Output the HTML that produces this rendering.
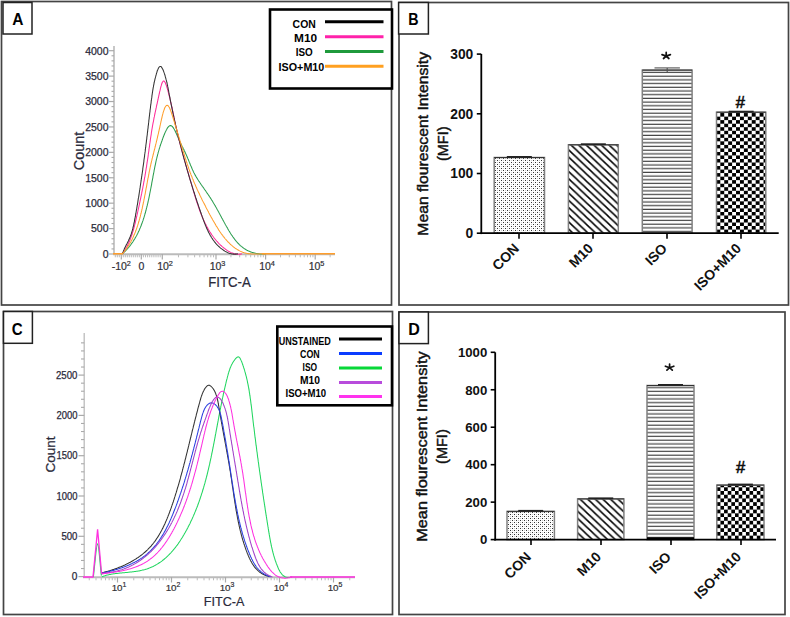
<!DOCTYPE html><html><head><meta charset="utf-8"><style>html,body{margin:0;padding:0;background:#fff;}svg{display:block;}text{font-family:"Liberation Sans",sans-serif;}</style></head><body>
<svg width="790" height="617" viewBox="0 0 790 617">
<defs>
<pattern id="dotsB" patternUnits="userSpaceOnUse" x="494" y="157" width="4" height="4"><rect x="1" y="1" width="1" height="1" fill="#333"/><rect x="3" y="3" width="1" height="1" fill="#333"/><rect x="1" y="3" width="1" height="1" fill="#ccc"/><rect x="3" y="1" width="1" height="1" fill="#ccc"/></pattern>
<pattern id="dotsD" patternUnits="userSpaceOnUse" x="507" y="511" width="4" height="4"><rect x="1" y="1" width="1" height="1" fill="#333"/><rect x="3" y="3" width="1" height="1" fill="#333"/><rect x="1" y="3" width="1" height="1" fill="#ccc"/><rect x="3" y="1" width="1" height="1" fill="#ccc"/></pattern>
<pattern id="diag" patternUnits="userSpaceOnUse" x="0" y="0" width="7.6" height="7.2"><path d="M-1.07,-1 L8.67,8.2 M-1.07,6.2 L1.07,8.2 M6.53,-1 L8.67,1" stroke="#000" stroke-width="1.5"/></pattern>
<pattern id="hstripB" patternUnits="userSpaceOnUse" x="0" y="70.3" width="10" height="3.7"><rect x="0" y="1.6" width="10" height="1.1" fill="#333"/></pattern>
<pattern id="hstripD" patternUnits="userSpaceOnUse" x="0" y="385.5" width="10" height="3.75"><rect x="0" y="1.6" width="10" height="1.1" fill="#333"/></pattern>
<pattern id="checkB" patternUnits="userSpaceOnUse" x="720.3" y="113.1" width="7.86" height="7.06"><rect x="0" y="0" width="3.93" height="3.53" fill="#000"/><rect x="3.93" y="3.53" width="3.93" height="3.53" fill="#000"/></pattern>
<pattern id="checkD" patternUnits="userSpaceOnUse" x="716.8" y="487.3" width="7.27" height="7.44"><rect x="0" y="0" width="3.63" height="3.72" fill="#000"/><rect x="3.63" y="3.72" width="3.64" height="3.72" fill="#000"/></pattern>
</defs>
<rect x="1.50" y="1.50" width="390.00" height="303.50" fill="none" stroke="#444" stroke-width="1.7"/>
<rect x="399.00" y="2.50" width="389.50" height="302.50" fill="none" stroke="#444" stroke-width="1.7"/>
<rect x="3.50" y="311.50" width="389.00" height="303.00" fill="none" stroke="#444" stroke-width="1.7"/>
<rect x="399.00" y="312.00" width="386.00" height="302.50" fill="none" stroke="#444" stroke-width="1.7"/>
<rect x="3.00" y="2.50" width="29.00" height="31.50" fill="#fff" stroke="#222" stroke-width="1.5"/>
<text x="17.80" y="25.20" font-size="17" font-weight="bold" text-anchor="middle" fill="#000" textLength="11.2" lengthAdjust="spacingAndGlyphs">A</text>
<rect x="398.60" y="2.50" width="29.80" height="31.50" fill="#fff" stroke="#222" stroke-width="1.5"/>
<text x="413.50" y="25.20" font-size="17" font-weight="bold" text-anchor="middle" fill="#000" textLength="10.3" lengthAdjust="spacingAndGlyphs">B</text>
<rect x="3.50" y="311.50" width="28.90" height="31.80" fill="#fff" stroke="#222" stroke-width="1.5"/>
<text x="17.30" y="334.80" font-size="17" font-weight="bold" text-anchor="middle" fill="#000" textLength="10.9" lengthAdjust="spacingAndGlyphs">C</text>
<rect x="399.00" y="312.00" width="29.40" height="31.60" fill="#fff" stroke="#222" stroke-width="1.5"/>
<text x="414.10" y="334.60" font-size="17" font-weight="bold" text-anchor="middle" fill="#000" textLength="11.6" lengthAdjust="spacingAndGlyphs">D</text>
<line x1="114.0" y1="46" x2="114.0" y2="254.0" stroke="#aaa" stroke-width="1.3"/>
<line x1="109" y1="254.00" x2="114.0" y2="254.00" stroke="#aaa" stroke-width="1.2"/>
<text x="108.5" y="257.80" font-size="10.5" text-anchor="end" fill="#2a2a3a" stroke="#2a2a3a" stroke-width="0.25">0</text>
<line x1="111.5" y1="248.92" x2="114.0" y2="248.92" stroke="#aaa" stroke-width="1.1"/>
<line x1="111.5" y1="243.84" x2="114.0" y2="243.84" stroke="#aaa" stroke-width="1.1"/>
<line x1="111.5" y1="238.75" x2="114.0" y2="238.75" stroke="#aaa" stroke-width="1.1"/>
<line x1="111.5" y1="233.67" x2="114.0" y2="233.67" stroke="#aaa" stroke-width="1.1"/>
<line x1="109" y1="228.59" x2="114.0" y2="228.59" stroke="#aaa" stroke-width="1.2"/>
<text x="108.5" y="232.39" font-size="10.5" text-anchor="end" fill="#2a2a3a" stroke="#2a2a3a" stroke-width="0.25">500</text>
<line x1="111.5" y1="223.50" x2="114.0" y2="223.50" stroke="#aaa" stroke-width="1.1"/>
<line x1="111.5" y1="218.42" x2="114.0" y2="218.42" stroke="#aaa" stroke-width="1.1"/>
<line x1="111.5" y1="213.34" x2="114.0" y2="213.34" stroke="#aaa" stroke-width="1.1"/>
<line x1="111.5" y1="208.26" x2="114.0" y2="208.26" stroke="#aaa" stroke-width="1.1"/>
<line x1="109" y1="203.18" x2="114.0" y2="203.18" stroke="#aaa" stroke-width="1.2"/>
<text x="108.5" y="206.98" font-size="10.5" text-anchor="end" fill="#2a2a3a" stroke="#2a2a3a" stroke-width="0.25">1000</text>
<line x1="111.5" y1="198.09" x2="114.0" y2="198.09" stroke="#aaa" stroke-width="1.1"/>
<line x1="111.5" y1="193.01" x2="114.0" y2="193.01" stroke="#aaa" stroke-width="1.1"/>
<line x1="111.5" y1="187.93" x2="114.0" y2="187.93" stroke="#aaa" stroke-width="1.1"/>
<line x1="111.5" y1="182.84" x2="114.0" y2="182.84" stroke="#aaa" stroke-width="1.1"/>
<line x1="109" y1="177.76" x2="114.0" y2="177.76" stroke="#aaa" stroke-width="1.2"/>
<text x="108.5" y="181.56" font-size="10.5" text-anchor="end" fill="#2a2a3a" stroke="#2a2a3a" stroke-width="0.25">1500</text>
<line x1="111.5" y1="172.68" x2="114.0" y2="172.68" stroke="#aaa" stroke-width="1.1"/>
<line x1="111.5" y1="167.60" x2="114.0" y2="167.60" stroke="#aaa" stroke-width="1.1"/>
<line x1="111.5" y1="162.51" x2="114.0" y2="162.51" stroke="#aaa" stroke-width="1.1"/>
<line x1="111.5" y1="157.43" x2="114.0" y2="157.43" stroke="#aaa" stroke-width="1.1"/>
<line x1="109" y1="152.35" x2="114.0" y2="152.35" stroke="#aaa" stroke-width="1.2"/>
<text x="108.5" y="156.15" font-size="10.5" text-anchor="end" fill="#2a2a3a" stroke="#2a2a3a" stroke-width="0.25">2000</text>
<line x1="111.5" y1="147.27" x2="114.0" y2="147.27" stroke="#aaa" stroke-width="1.1"/>
<line x1="111.5" y1="142.19" x2="114.0" y2="142.19" stroke="#aaa" stroke-width="1.1"/>
<line x1="111.5" y1="137.10" x2="114.0" y2="137.10" stroke="#aaa" stroke-width="1.1"/>
<line x1="111.5" y1="132.02" x2="114.0" y2="132.02" stroke="#aaa" stroke-width="1.1"/>
<line x1="109" y1="126.94" x2="114.0" y2="126.94" stroke="#aaa" stroke-width="1.2"/>
<text x="108.5" y="130.74" font-size="10.5" text-anchor="end" fill="#2a2a3a" stroke="#2a2a3a" stroke-width="0.25">2500</text>
<line x1="111.5" y1="121.85" x2="114.0" y2="121.85" stroke="#aaa" stroke-width="1.1"/>
<line x1="111.5" y1="116.77" x2="114.0" y2="116.77" stroke="#aaa" stroke-width="1.1"/>
<line x1="111.5" y1="111.69" x2="114.0" y2="111.69" stroke="#aaa" stroke-width="1.1"/>
<line x1="111.5" y1="106.61" x2="114.0" y2="106.61" stroke="#aaa" stroke-width="1.1"/>
<line x1="109" y1="101.53" x2="114.0" y2="101.53" stroke="#aaa" stroke-width="1.2"/>
<text x="108.5" y="105.33" font-size="10.5" text-anchor="end" fill="#2a2a3a" stroke="#2a2a3a" stroke-width="0.25">3000</text>
<line x1="111.5" y1="96.44" x2="114.0" y2="96.44" stroke="#aaa" stroke-width="1.1"/>
<line x1="111.5" y1="91.36" x2="114.0" y2="91.36" stroke="#aaa" stroke-width="1.1"/>
<line x1="111.5" y1="86.28" x2="114.0" y2="86.28" stroke="#aaa" stroke-width="1.1"/>
<line x1="111.5" y1="81.19" x2="114.0" y2="81.19" stroke="#aaa" stroke-width="1.1"/>
<line x1="109" y1="76.11" x2="114.0" y2="76.11" stroke="#aaa" stroke-width="1.2"/>
<text x="108.5" y="79.91" font-size="10.5" text-anchor="end" fill="#2a2a3a" stroke="#2a2a3a" stroke-width="0.25">3500</text>
<line x1="111.5" y1="71.03" x2="114.0" y2="71.03" stroke="#aaa" stroke-width="1.1"/>
<line x1="111.5" y1="65.95" x2="114.0" y2="65.95" stroke="#aaa" stroke-width="1.1"/>
<line x1="111.5" y1="60.86" x2="114.0" y2="60.86" stroke="#aaa" stroke-width="1.1"/>
<line x1="111.5" y1="55.78" x2="114.0" y2="55.78" stroke="#aaa" stroke-width="1.1"/>
<line x1="109" y1="50.70" x2="114.0" y2="50.70" stroke="#aaa" stroke-width="1.2"/>
<text x="108.5" y="54.50" font-size="10.5" text-anchor="end" fill="#2a2a3a" stroke="#2a2a3a" stroke-width="0.25">4000</text>
<line x1="113" y1="254.3" x2="335" y2="254.3" stroke="#bbb" stroke-width="2"/>
<line x1="121.30" y1="254" x2="121.30" y2="259.5" stroke="#aaa" stroke-width="1.2"/>
<line x1="141.30" y1="254" x2="141.30" y2="259.5" stroke="#aaa" stroke-width="1.2"/>
<line x1="162.30" y1="254" x2="162.30" y2="259.5" stroke="#aaa" stroke-width="1.2"/>
<line x1="216.00" y1="254" x2="216.00" y2="259.5" stroke="#aaa" stroke-width="1.2"/>
<line x1="265.60" y1="254" x2="265.60" y2="259.5" stroke="#aaa" stroke-width="1.2"/>
<line x1="315.20" y1="254" x2="315.20" y2="259.5" stroke="#aaa" stroke-width="1.2"/>
<line x1="123.30" y1="254" x2="123.30" y2="257.3" stroke="#bbb" stroke-width="1"/>
<line x1="143.40" y1="254" x2="143.40" y2="257.3" stroke="#bbb" stroke-width="1"/>
<line x1="125.30" y1="254" x2="125.30" y2="257.3" stroke="#bbb" stroke-width="1"/>
<line x1="145.50" y1="254" x2="145.50" y2="257.3" stroke="#bbb" stroke-width="1"/>
<line x1="127.30" y1="254" x2="127.30" y2="257.3" stroke="#bbb" stroke-width="1"/>
<line x1="147.60" y1="254" x2="147.60" y2="257.3" stroke="#bbb" stroke-width="1"/>
<line x1="129.30" y1="254" x2="129.30" y2="257.3" stroke="#bbb" stroke-width="1"/>
<line x1="149.70" y1="254" x2="149.70" y2="257.3" stroke="#bbb" stroke-width="1"/>
<line x1="131.30" y1="254" x2="131.30" y2="257.3" stroke="#bbb" stroke-width="1"/>
<line x1="151.80" y1="254" x2="151.80" y2="257.3" stroke="#bbb" stroke-width="1"/>
<line x1="133.30" y1="254" x2="133.30" y2="257.3" stroke="#bbb" stroke-width="1"/>
<line x1="153.90" y1="254" x2="153.90" y2="257.3" stroke="#bbb" stroke-width="1"/>
<line x1="135.30" y1="254" x2="135.30" y2="257.3" stroke="#bbb" stroke-width="1"/>
<line x1="156.00" y1="254" x2="156.00" y2="257.3" stroke="#bbb" stroke-width="1"/>
<line x1="137.30" y1="254" x2="137.30" y2="257.3" stroke="#bbb" stroke-width="1"/>
<line x1="158.10" y1="254" x2="158.10" y2="257.3" stroke="#bbb" stroke-width="1"/>
<line x1="139.30" y1="254" x2="139.30" y2="257.3" stroke="#bbb" stroke-width="1"/>
<line x1="160.20" y1="254" x2="160.20" y2="257.3" stroke="#bbb" stroke-width="1"/>
<line x1="178.47" y1="254" x2="178.47" y2="257.3" stroke="#bbb" stroke-width="1"/>
<line x1="187.92" y1="254" x2="187.92" y2="257.3" stroke="#bbb" stroke-width="1"/>
<line x1="194.63" y1="254" x2="194.63" y2="257.3" stroke="#bbb" stroke-width="1"/>
<line x1="199.83" y1="254" x2="199.83" y2="257.3" stroke="#bbb" stroke-width="1"/>
<line x1="204.09" y1="254" x2="204.09" y2="257.3" stroke="#bbb" stroke-width="1"/>
<line x1="207.68" y1="254" x2="207.68" y2="257.3" stroke="#bbb" stroke-width="1"/>
<line x1="210.80" y1="254" x2="210.80" y2="257.3" stroke="#bbb" stroke-width="1"/>
<line x1="213.54" y1="254" x2="213.54" y2="257.3" stroke="#bbb" stroke-width="1"/>
<line x1="230.93" y1="254" x2="230.93" y2="257.3" stroke="#bbb" stroke-width="1"/>
<line x1="239.67" y1="254" x2="239.67" y2="257.3" stroke="#bbb" stroke-width="1"/>
<line x1="245.86" y1="254" x2="245.86" y2="257.3" stroke="#bbb" stroke-width="1"/>
<line x1="250.67" y1="254" x2="250.67" y2="257.3" stroke="#bbb" stroke-width="1"/>
<line x1="254.60" y1="254" x2="254.60" y2="257.3" stroke="#bbb" stroke-width="1"/>
<line x1="257.92" y1="254" x2="257.92" y2="257.3" stroke="#bbb" stroke-width="1"/>
<line x1="260.79" y1="254" x2="260.79" y2="257.3" stroke="#bbb" stroke-width="1"/>
<line x1="263.33" y1="254" x2="263.33" y2="257.3" stroke="#bbb" stroke-width="1"/>
<line x1="280.53" y1="254" x2="280.53" y2="257.3" stroke="#bbb" stroke-width="1"/>
<line x1="289.27" y1="254" x2="289.27" y2="257.3" stroke="#bbb" stroke-width="1"/>
<line x1="295.46" y1="254" x2="295.46" y2="257.3" stroke="#bbb" stroke-width="1"/>
<line x1="300.27" y1="254" x2="300.27" y2="257.3" stroke="#bbb" stroke-width="1"/>
<line x1="304.20" y1="254" x2="304.20" y2="257.3" stroke="#bbb" stroke-width="1"/>
<line x1="307.52" y1="254" x2="307.52" y2="257.3" stroke="#bbb" stroke-width="1"/>
<line x1="310.39" y1="254" x2="310.39" y2="257.3" stroke="#bbb" stroke-width="1"/>
<line x1="312.93" y1="254" x2="312.93" y2="257.3" stroke="#bbb" stroke-width="1"/>
<line x1="330.13" y1="254" x2="330.13" y2="257.3" stroke="#bbb" stroke-width="1"/>
<line x1="119.30" y1="254" x2="119.30" y2="257.3" stroke="#bbb" stroke-width="1"/>
<line x1="117.30" y1="254" x2="117.30" y2="257.3" stroke="#bbb" stroke-width="1"/>
<line x1="115.30" y1="254" x2="115.30" y2="257.3" stroke="#bbb" stroke-width="1"/>
<text x="121.30" y="270.30" font-size="10.5" text-anchor="middle" fill="#333" stroke="#2a2a3a" stroke-width="0.2">-10<tspan font-size="7.3" dy="-4">2</tspan></text>
<text x="141.3" y="270.3" font-size="10.5" text-anchor="middle" fill="#2a2a3a" stroke="#2a2a3a" stroke-width="0.2">0</text>
<text x="165.00" y="270.30" font-size="10.5" text-anchor="middle" fill="#333" stroke="#2a2a3a" stroke-width="0.2">10<tspan font-size="7.3" dy="-4">2</tspan></text>
<text x="217.50" y="270.30" font-size="10.5" text-anchor="middle" fill="#333" stroke="#2a2a3a" stroke-width="0.2">10<tspan font-size="7.3" dy="-4">3</tspan></text>
<text x="267.00" y="270.30" font-size="10.5" text-anchor="middle" fill="#333" stroke="#2a2a3a" stroke-width="0.2">10<tspan font-size="7.3" dy="-4">4</tspan></text>
<text x="316.50" y="270.30" font-size="10.5" text-anchor="middle" fill="#333" stroke="#2a2a3a" stroke-width="0.2">10<tspan font-size="7.3" dy="-4">5</tspan></text>
<text x="208.3" y="286.7" font-size="14" fill="#2a2a3a" stroke="#2a2a3a" stroke-width="0.2" textLength="42.5" lengthAdjust="spacingAndGlyphs">FITC-A</text>
<text transform="translate(83.8,151) rotate(-90)" x="0" y="0" font-size="14.5" text-anchor="middle" fill="#2a2a3a" stroke="#2a2a3a" stroke-width="0.25">Count</text>
<path d="M122.40,253.76L122.8,253.4L123.2,253.1L123.6,252.7L124.0,252.3L124.3,252.0L124.7,251.6L125.1,251.3L125.5,250.9L125.8,250.5L126.2,250.1L126.5,249.8L126.9,249.4L127.2,249.0L127.6,248.6L127.9,248.2L128.3,247.8L128.6,247.5L128.9,247.1L129.2,246.7L129.6,246.3L129.9,245.9L130.2,245.5L130.5,245.1L130.8,244.7L131.1,244.3L131.4,243.8L131.7,243.4L132.0,243.0L132.3,242.6L132.6,242.2L132.9,241.8L133.2,241.3L133.4,240.9L133.7,240.5L134.0,240.1L134.2,239.6L134.5,239.2L134.8,238.8L135.0,238.3L135.3,237.9L135.5,237.4L135.8,237.0L136.0,236.6L136.3,236.1L136.5,235.7L136.8,235.2L137.0,234.8L137.2,234.3L137.4,233.9L137.7,233.4L137.9,233.0L138.1,232.5L138.3,232.0L138.6,231.6L138.8,231.1L139.0,230.7L139.2,230.2L139.4,229.7L139.6,229.3L139.8,228.8L140.0,228.3L140.2,227.9L140.4,227.4L140.6,226.9L140.8,226.4L141.0,226.0L141.2,225.5L141.3,225.0L141.5,224.5L141.7,224.0L141.9,223.6L142.1,223.1L142.2,222.6L142.4,222.1L142.6,221.6L142.7,221.1L142.9,220.7L143.1,220.2L143.2,219.7L143.4,219.2L143.5,218.7L143.7,218.2L143.9,217.7L144.0,217.2L144.2,216.7L144.3,216.2L144.5,215.7L144.6,215.2L144.8,214.7L144.9,214.2L145.0,213.8L145.2,213.3L145.3,212.8L145.5,212.3L145.6,211.8L145.7,211.3L145.9,210.8L146.0,210.3L146.1,209.7L146.3,209.2L146.4,208.7L146.5,208.2L146.7,207.7L146.8,207.2L146.9,206.7L147.0,206.2L147.2,205.7L147.3,205.2L147.4,204.7L147.5,204.2L147.6,203.7L147.8,203.2L147.9,202.7L148.0,202.2L148.1,201.7L148.2,201.2L148.3,200.7L148.4,200.1L148.6,199.6L148.7,199.1L148.8,198.6L148.9,198.1L149.0,197.6L149.1,197.1L149.2,196.6L149.3,196.1L149.4,195.6L149.5,195.1L149.6,194.6L149.7,194.0L149.8,193.5L149.9,193.0L150.0,192.5L150.1,192.0L150.2,191.5L150.3,191.0L150.4,190.5L150.5,190.0L150.6,189.5L150.7,189.0L150.8,188.5L150.9,188.0L151.0,187.4L151.1,186.9L151.2,186.4L151.3,185.9L151.4,185.4L151.5,184.9L151.6,184.4L151.7,183.9L151.7,183.4L151.8,182.9L151.9,182.4L152.0,181.9L152.1,181.4L152.2,180.9L152.3,180.4L152.4,179.9L152.5,179.4L152.6,178.9L152.7,178.4L152.8,177.9L152.9,177.4L152.9,176.9L153.0,176.4L153.1,175.9L153.2,175.4L153.3,174.9L153.4,174.4L153.5,174.0L153.6,173.5L153.8,172.5L154.0,171.5L154.1,170.5L154.3,169.6L154.5,168.6L154.7,167.6L154.9,166.7L155.1,165.7L155.3,164.8L155.5,163.8L155.7,162.9L155.9,161.9L156.1,161.0L156.3,160.0L156.5,159.1L156.8,158.2L157.0,157.2L157.2,156.3L157.5,155.3L157.7,154.3L158.0,153.4L158.1,152.9L158.2,152.4L158.4,151.9L158.5,151.4L158.7,150.9L158.8,150.4L158.9,149.9L159.1,149.4L159.2,148.9L159.4,148.4L159.6,147.9L159.7,147.4L159.9,146.9L160.0,146.4L160.2,145.8L160.4,145.3L160.5,144.8L160.7,144.2L160.9,143.7L161.1,143.2L161.3,142.6L161.5,142.1L161.7,141.5L161.9,141.0L162.1,140.4L162.3,139.8L162.5,139.3L162.7,138.7L162.9,138.1L163.1,137.5L163.3,136.9L163.6,136.3L163.8,135.7L164.0,135.2L164.3,134.6L164.5,134.0L164.7,133.4L165.0,132.8L165.2,132.3L165.5,131.7L165.7,131.2L166.0,130.7L166.2,130.2L166.5,129.7L166.8,129.2L167.0,128.8L167.5,127.9L168.1,127.2L168.6,126.6L169.1,126.1L169.7,125.8L170.2,125.6L170.7,125.6L171.3,125.8L171.8,126.1L172.3,126.5L172.8,127.1L173.4,127.9L173.9,128.7L174.1,129.1L174.4,129.6L174.6,130.0L174.9,130.5L175.1,131.1L175.4,131.6L175.6,132.1L175.9,132.7L176.2,133.2L176.4,133.8L176.7,134.4L176.9,134.9L177.2,135.5L177.4,136.1L177.6,136.6L177.9,137.2L178.1,137.8L178.4,138.3L178.6,138.9L178.9,139.4L179.1,139.9L179.4,140.5L179.6,141.0L179.8,141.5L180.1,142.0L180.3,142.5L180.6,143.0L180.8,143.5L181.0,144.0L181.3,144.5L181.5,145.0L181.7,145.4L182.0,145.9L182.2,146.4L182.4,146.8L182.7,147.3L182.9,147.7L183.1,148.2L183.3,148.7L183.6,149.1L183.8,149.6L184.0,150.0L184.4,150.9L184.9,151.8L185.3,152.7L185.7,153.6L186.1,154.5L186.5,155.4L186.9,156.3L187.3,157.2L187.5,157.7L187.7,158.2L187.9,158.6L188.1,159.1L188.3,159.6L188.5,160.0L188.7,160.5L188.9,161.0L189.1,161.4L189.2,161.9L189.4,162.4L189.6,162.8L189.8,163.3L190.0,163.8L190.2,164.3L190.4,164.7L190.6,165.2L190.8,165.7L191.0,166.1L191.2,166.6L191.4,167.1L191.6,167.5L191.8,168.0L192.0,168.5L192.2,169.0L192.4,169.4L192.6,169.9L192.8,170.3L193.0,170.8L193.2,171.3L193.5,171.7L193.7,172.2L193.9,172.7L194.1,173.1L194.4,173.6L194.6,174.0L194.9,174.5L195.1,174.9L195.3,175.4L195.6,175.8L195.8,176.3L196.1,176.7L196.4,177.1L196.6,177.6L196.9,178.0L197.2,178.5L197.4,178.9L197.7,179.3L198.0,179.8L198.3,180.2L198.5,180.6L198.8,181.1L199.1,181.5L199.4,181.9L199.7,182.3L200.0,182.8L200.3,183.2L200.6,183.6L200.8,184.0L201.1,184.5L201.4,184.9L201.7,185.3L202.0,185.7L202.3,186.2L202.6,186.6L202.9,187.0L203.2,187.4L203.5,187.8L203.8,188.3L204.1,188.7L204.4,189.1L204.7,189.5L205.0,190.0L205.3,190.4L205.6,190.8L205.9,191.2L206.2,191.7L206.5,192.1L206.7,192.5L207.0,192.9L207.3,193.4L207.6,193.8L207.9,194.2L208.2,194.6L208.5,195.1L208.8,195.5L209.0,195.9L209.3,196.3L209.6,196.8L209.9,197.2L210.2,197.6L210.4,198.1L210.7,198.5L211.0,198.9L211.3,199.3L211.5,199.8L211.8,200.2L212.1,200.6L212.4,201.1L212.6,201.5L212.9,201.9L213.2,202.4L213.4,202.8L213.7,203.3L213.9,203.7L214.2,204.1L214.5,204.6L214.7,205.0L215.0,205.4L215.2,205.9L215.5,206.3L215.7,206.8L216.0,207.2L216.2,207.6L216.5,208.1L216.7,208.5L217.0,209.0L217.2,209.4L217.5,209.9L217.7,210.3L218.0,210.8L218.2,211.2L218.4,211.6L218.7,212.1L218.9,212.5L219.2,213.0L219.4,213.4L219.7,213.9L219.9,214.3L220.1,214.8L220.4,215.2L220.6,215.7L220.9,216.1L221.1,216.6L221.3,217.0L221.6,217.5L221.8,217.9L222.1,218.4L222.3,218.8L222.5,219.3L222.8,219.7L223.0,220.2L223.3,220.6L223.5,221.1L223.8,221.5L224.0,222.0L224.3,222.4L224.5,222.9L224.7,223.3L225.0,223.8L225.2,224.2L225.5,224.7L225.7,225.1L226.0,225.6L226.2,226.0L226.5,226.5L226.8,226.9L227.0,227.4L227.3,227.8L227.5,228.3L227.8,228.7L228.0,229.2L228.3,229.6L228.6,230.1L228.8,230.5L229.1,231.0L229.4,231.4L229.6,231.9L229.9,232.3L230.2,232.8L230.5,233.2L230.7,233.6L231.0,234.1L231.3,234.5L231.6,235.0L231.9,235.4L232.2,235.8L232.5,236.2L232.8,236.7L233.1,237.1L233.4,237.5L233.7,237.9L234.0,238.4L234.3,238.8L234.6,239.2L234.9,239.6L235.2,240.0L235.5,240.4L235.9,240.8L236.2,241.2L236.5,241.6L236.9,242.0L237.2,242.4L237.5,242.7L237.9,243.1L238.2,243.5L238.6,243.8L239.0,244.2L239.3,244.6L239.7,244.9L240.0,245.3L240.4,245.6L240.8,245.9L241.2,246.3L241.6,246.6L242.0,246.9L242.4,247.2L242.8,247.5L243.2,247.8L243.6,248.1L244.0,248.4L244.4,248.7L244.8,248.9L245.3,249.2L245.7,249.5L246.1,249.7L246.6,250.0L247.0,250.2L247.5,250.4L247.9,250.7L248.4,250.9L248.9,251.1L249.3,251.3L249.8,251.5L250.3,251.7L250.7,251.9L251.2,252.1L251.7,252.2L252.2,252.4L252.7,252.5L253.2,252.7L253.7,252.8L254.2,253.0L254.7,253.1L255.2,253.2L255.7,253.3L256.2,253.4L256.7,253.5L257.2,253.6L257.7,253.7L258.2,253.7L258.7,253.8L259.3,253.8L259.8,253.9L260.3,253.9L260.8,254.0L261.3,254.0L261.9,254.0L262.4,254.0L262.9,254.0L263.4,254.0L263.9,254.0L264.5,253.9L265.0,253.9L265.5,253.8L266.0,253.8L266.0,253.8" fill="none" stroke="#2a9d4e" stroke-width="1.05"/>
<path d="M122.28,253.70L122.7,253.2L123.0,252.7L123.4,252.1L123.8,251.6L124.1,251.1L124.5,250.5L124.8,250.0L125.2,249.5L125.5,248.9L125.8,248.4L126.1,247.8L126.5,247.3L126.8,246.7L127.1,246.2L127.4,245.6L127.6,245.0L127.9,244.5L128.2,243.9L128.5,243.3L128.7,242.8L129.0,242.2L129.3,241.6L129.5,241.0L129.8,240.5L130.0,239.9L130.2,239.3L130.5,238.7L130.7,238.1L130.9,237.5L131.1,236.9L131.3,236.3L131.5,235.7L131.8,235.1L132.0,234.6L132.2,234.0L132.3,233.4L132.5,232.7L132.7,232.1L132.9,231.5L133.1,230.9L133.3,230.3L133.4,229.7L133.6,229.1L133.8,228.5L133.9,227.9L134.1,227.3L134.3,226.7L134.4,226.0L134.6,225.4L134.7,224.8L134.9,224.2L135.1,223.6L135.2,223.0L135.4,222.4L135.5,221.7L135.6,221.1L135.8,220.5L135.9,219.9L136.1,219.3L136.2,218.6L136.4,218.0L136.5,217.4L136.6,216.8L136.8,216.2L136.9,215.5L137.0,214.9L137.2,214.3L137.3,213.7L137.5,213.1L137.6,212.5L137.7,211.8L137.9,211.2L138.0,210.6L138.1,210.0L138.3,209.4L138.4,208.8L138.6,208.1L138.7,207.5L138.8,206.9L139.0,206.3L139.1,205.7L139.2,205.1L139.4,204.4L139.5,203.8L139.6,203.2L139.7,202.6L139.9,202.0L140.0,201.4L140.1,200.7L140.3,200.1L140.4,199.5L140.5,198.9L140.7,198.3L140.8,197.6L140.9,197.0L141.0,196.4L141.2,195.8L141.3,195.2L141.4,194.6L141.6,193.9L141.7,193.3L141.8,192.7L141.9,192.1L142.1,191.5L142.2,190.8L142.3,190.2L142.4,189.6L142.5,189.0L142.7,188.4L142.8,187.8L142.9,187.1L143.0,186.5L143.1,185.9L143.3,185.3L143.4,184.6L143.5,184.0L143.6,183.4L143.7,182.8L143.8,182.2L144.0,181.5L144.1,180.9L144.2,180.3L144.3,179.7L144.4,179.0L144.5,178.4L144.6,177.8L144.8,177.2L144.9,176.5L145.0,175.9L145.1,175.3L145.2,174.7L145.3,174.0L145.4,173.4L145.5,172.8L145.6,172.2L145.7,171.5L145.8,170.9L145.9,170.3L146.0,169.6L146.1,169.0L146.2,168.4L146.3,167.7L146.5,167.1L146.6,166.5L146.6,165.8L146.7,165.2L146.8,164.6L146.9,163.9L147.0,163.3L147.1,162.7L147.2,162.0L147.3,161.4L147.4,160.8L147.5,160.1L147.6,159.5L147.7,158.8L147.8,158.2L147.9,157.6L148.0,156.9L148.1,156.3L148.2,155.6L148.2,155.0L148.3,154.4L148.4,153.7L148.5,153.1L148.6,152.5L148.7,151.8L148.8,151.2L148.9,150.6L148.9,149.9L149.0,149.3L149.1,148.6L149.2,148.0L149.3,147.4L149.4,146.8L149.5,146.1L149.6,145.5L149.6,144.9L149.7,144.2L149.8,143.6L149.9,143.0L150.0,142.4L150.1,141.7L150.2,141.1L150.3,140.5L150.3,139.9L150.4,139.3L150.5,138.6L150.6,138.0L150.7,137.4L150.8,136.8L150.9,136.2L151.0,135.6L151.1,135.0L151.2,134.4L151.3,133.8L151.3,133.2L151.4,132.6L151.5,132.0L151.6,131.4L151.7,130.8L151.8,130.2L151.9,129.6L152.0,129.0L152.1,128.5L152.2,127.9L152.3,127.3L152.4,126.7L152.5,126.1L152.6,125.6L152.7,125.0L152.8,124.4L152.9,123.8L153.0,123.3L153.1,122.7L153.3,122.1L153.4,121.6L153.5,121.0L153.6,120.4L153.7,119.8L153.8,119.3L153.9,118.7L154.0,118.1L154.1,117.5L154.3,116.9L154.4,116.4L154.5,115.8L154.6,115.2L154.7,114.6L154.9,114.0L155.0,113.4L155.1,112.8L155.2,112.2L155.4,111.6L155.5,111.0L155.6,110.4L155.8,109.8L155.9,109.1L156.0,108.5L156.2,107.9L156.3,107.3L156.4,106.6L156.6,106.0L156.7,105.3L156.9,104.7L157.0,104.0L157.2,103.3L157.3,102.7L157.5,102.0L157.6,101.3L157.8,100.6L157.9,99.9L158.1,99.2L158.2,98.5L158.4,97.7L158.5,97.0L158.7,96.3L158.9,95.5L159.0,94.8L159.2,94.0L159.4,93.2L159.5,92.4L159.7,91.6L159.9,90.9L160.1,90.1L160.3,89.3L160.4,88.5L160.6,87.8L160.8,87.0L161.0,86.3L161.2,85.7L161.4,85.0L161.6,84.4L161.8,83.8L162.0,83.3L162.1,82.8L162.6,82.0L163.0,81.4L163.4,81.0L164.0,81.1L164.5,81.5L164.9,82.1L165.4,83.0L165.6,83.5L165.8,84.1L166.0,84.7L166.3,85.3L166.5,85.9L166.7,86.6L166.9,87.3L167.2,88.1L167.4,88.8L167.6,89.6L167.8,90.4L168.0,91.1L168.2,91.9L168.4,92.7L168.6,93.5L168.8,94.2L169.0,95.0L169.2,95.8L169.4,96.5L169.6,97.2L169.7,98.0L169.9,98.7L170.1,99.4L170.3,100.1L170.4,100.8L170.6,101.5L170.7,102.2L170.9,102.9L171.1,103.6L171.2,104.2L171.4,104.9L171.5,105.6L171.7,106.2L171.8,106.9L171.9,107.5L172.1,108.1L172.2,108.8L172.4,109.4L172.5,110.0L172.6,110.7L172.8,111.3L172.9,111.9L173.0,112.5L173.1,113.1L173.3,113.7L173.4,114.3L173.5,114.9L173.6,115.5L173.8,116.1L173.9,116.7L174.0,117.3L174.1,117.9L174.2,118.5L174.4,119.0L174.5,119.6L174.6,120.2L174.7,120.8L174.8,121.4L175.0,121.9L175.1,122.5L175.2,123.1L175.3,123.6L175.4,124.2L175.6,124.8L175.7,125.4L175.8,125.9L175.9,126.5L176.1,127.1L176.2,127.7L176.3,128.2L176.4,128.8L176.6,129.4L176.7,130.0L176.8,130.5L177.0,131.1L177.1,131.7L177.2,132.3L177.4,132.9L177.5,133.5L177.6,134.1L177.8,134.6L177.9,135.2L178.0,135.8L178.2,136.4L178.3,137.0L178.5,137.6L178.6,138.2L178.8,138.8L178.9,139.4L179.1,140.0L179.2,140.6L179.4,141.2L179.5,141.8L179.7,142.4L179.8,143.0L180.0,143.6L180.1,144.2L180.3,144.8L180.5,145.4L180.6,146.0L180.8,146.6L180.9,147.2L181.1,147.8L181.3,148.4L181.4,149.1L181.6,149.7L181.8,150.3L181.9,150.9L182.1,151.5L182.3,152.1L182.4,152.7L182.6,153.3L182.8,154.0L182.9,154.6L183.1,155.2L183.3,155.8L183.4,156.4L183.6,157.0L183.8,157.7L184.0,158.3L184.1,158.9L184.3,159.5L184.5,160.1L184.7,160.7L184.8,161.4L185.0,162.0L185.2,162.6L185.4,163.2L185.5,163.8L185.7,164.5L185.9,165.1L186.1,165.7L186.2,166.3L186.4,166.9L186.6,167.6L186.8,168.2L187.0,168.8L187.1,169.4L187.3,170.0L187.5,170.7L187.7,171.3L187.9,171.9L188.0,172.5L188.2,173.1L188.4,173.7L188.6,174.4L188.8,175.0L188.9,175.6L189.1,176.2L189.3,176.8L189.5,177.5L189.7,178.1L189.8,178.7L190.0,179.3L190.2,179.9L190.4,180.5L190.6,181.1L190.8,181.8L190.9,182.4L191.1,183.0L191.3,183.6L191.5,184.2L191.7,184.8L191.8,185.4L192.0,186.0L192.2,186.7L192.4,187.3L192.5,187.9L192.7,188.5L192.9,189.1L193.1,189.7L193.3,190.3L193.4,190.9L193.6,191.5L193.8,192.1L194.0,192.7L194.1,193.3L194.3,193.9L194.5,194.5L194.7,195.1L194.9,195.7L195.0,196.3L195.2,196.9L195.4,197.5L195.6,198.1L195.8,198.7L196.0,199.3L196.1,199.9L196.3,200.5L196.5,201.1L196.7,201.7L196.9,202.3L197.1,202.9L197.3,203.4L197.5,204.0L197.7,204.6L197.9,205.2L198.1,205.8L198.3,206.4L198.5,207.0L198.7,207.6L198.9,208.2L199.1,208.8L199.3,209.3L199.5,209.9L199.7,210.5L199.9,211.1L200.2,211.7L200.4,212.3L200.6,212.9L200.8,213.5L201.1,214.0L201.3,214.6L201.5,215.2L201.8,215.8L202.0,216.4L202.3,217.0L202.5,217.6L202.8,218.1L203.0,218.7L203.3,219.3L203.5,219.9L203.8,220.5L204.1,221.1L204.3,221.6L204.6,222.2L204.9,222.8L205.2,223.4L205.5,223.9L205.8,224.5L206.0,225.1L206.3,225.7L206.6,226.2L206.9,226.8L207.2,227.4L207.6,227.9L207.9,228.5L208.2,229.0L208.5,229.6L208.8,230.1L209.2,230.7L209.5,231.2L209.8,231.8L210.2,232.3L210.5,232.9L210.9,233.4L211.2,233.9L211.6,234.4L211.9,235.0L212.3,235.5L212.7,236.0L213.1,236.5L213.4,237.0L213.8,237.5L214.2,238.1L214.6,238.6L215.0,239.0L215.4,239.5L215.8,240.0L216.2,240.5L216.6,241.0L217.0,241.5L217.5,241.9L217.9,242.4L218.3,242.9L218.8,243.3L219.2,243.8L219.6,244.2L220.1,244.6L220.5,245.1L221.0,245.5L221.5,245.9L221.9,246.4L222.4,246.8L222.9,247.2L223.4,247.6L223.9,248.0L224.4,248.4L224.9,248.7L225.4,249.1L225.9,249.5L226.4,249.9L226.9,250.2L227.5,250.6L228.0,250.9L228.5,251.2L229.1,251.5L229.6,251.8L230.2,252.1L230.7,252.4L231.3,252.7L231.9,252.9L232.5,253.1L233.1,253.3L233.6,253.5L234.2,253.7L234.9,253.8L235.5,254.0L236.1,254.1L236.7,254.1L237.4,254.2L238.0,254.2L238.6,254.2L239.3,254.2L240.0,254.1L240.6,254.1L241.3,254.0L242.0,253.8L242.0,253.8" fill="none" stroke="#ff2d9a" stroke-width="1.05"/>
<path d="M122.48,253.79L122.7,253.1L122.9,252.5L123.1,251.9L123.4,251.2L123.6,250.6L123.9,250.0L124.1,249.4L124.4,248.7L124.7,248.1L125.0,247.5L125.3,246.9L125.6,246.3L125.9,245.7L126.2,245.1L126.5,244.5L126.8,243.9L127.2,243.3L127.5,242.7L127.8,242.1L128.1,241.5L128.4,240.9L128.7,240.2L129.0,239.6L129.2,239.0L129.5,238.4L129.8,237.8L130.0,237.2L130.3,236.5L130.5,235.9L130.8,235.3L131.0,234.6L131.2,234.0L131.4,233.3L131.6,232.7L131.8,232.1L132.0,231.4L132.2,230.8L132.4,230.1L132.6,229.5L132.7,228.8L132.9,228.2L133.1,227.5L133.2,226.8L133.4,226.2L133.5,225.5L133.7,224.8L133.8,224.2L134.0,223.5L134.1,222.9L134.3,222.2L134.4,221.5L134.5,220.8L134.6,220.2L134.8,219.5L134.9,218.8L135.0,218.2L135.1,217.5L135.3,216.8L135.4,216.2L135.5,215.5L135.6,214.8L135.7,214.1L135.9,213.5L136.0,212.8L136.1,212.1L136.2,211.5L136.3,210.8L136.4,210.1L136.6,209.5L136.7,208.8L136.8,208.1L136.9,207.4L137.0,206.8L137.1,206.1L137.2,205.4L137.4,204.8L137.5,204.1L137.6,203.4L137.7,202.8L137.8,202.1L137.9,201.4L138.0,200.7L138.1,200.1L138.2,199.4L138.3,198.7L138.4,198.1L138.6,197.4L138.7,196.7L138.8,196.1L138.9,195.4L139.0,194.7L139.1,194.1L139.2,193.4L139.3,192.7L139.4,192.0L139.5,191.4L139.6,190.7L139.7,190.0L139.8,189.4L139.9,188.7L140.0,188.0L140.1,187.4L140.2,186.7L140.3,186.0L140.4,185.4L140.5,184.7L140.6,184.0L140.7,183.4L140.8,182.7L140.9,182.0L141.0,181.3L141.1,180.7L141.2,180.0L141.3,179.3L141.4,178.7L141.5,178.0L141.6,177.3L141.7,176.7L141.8,176.0L141.9,175.3L142.0,174.7L142.1,174.0L142.2,173.3L142.3,172.6L142.4,172.0L142.5,171.3L142.6,170.6L142.7,170.0L142.8,169.3L142.8,168.6L142.9,168.0L143.0,167.3L143.1,166.6L143.2,165.9L143.3,165.3L143.4,164.6L143.5,163.9L143.6,163.3L143.7,162.6L143.8,161.9L143.9,161.3L143.9,160.6L144.0,159.9L144.1,159.2L144.2,158.6L144.3,157.9L144.4,157.2L144.5,156.6L144.6,155.9L144.6,155.2L144.7,154.5L144.8,153.9L144.9,153.2L145.0,152.5L145.1,151.9L145.2,151.2L145.3,150.5L145.3,149.8L145.4,149.2L145.5,148.5L145.6,147.8L145.7,147.2L145.8,146.5L145.8,145.8L145.9,145.1L146.0,144.5L146.1,143.8L146.2,143.1L146.3,142.4L146.4,141.8L146.4,141.1L146.5,140.4L146.6,139.8L146.7,139.1L146.8,138.4L146.8,137.7L146.9,137.1L147.0,136.4L147.1,135.7L147.2,135.0L147.3,134.4L147.3,133.7L147.4,133.0L147.5,132.3L147.6,131.7L147.7,131.0L147.7,130.3L147.8,129.6L147.9,128.9L148.0,128.3L148.1,127.6L148.1,126.9L148.2,126.2L148.3,125.6L148.4,124.9L148.5,124.2L148.5,123.5L148.6,122.9L148.7,122.2L148.8,121.5L148.8,120.8L148.9,120.1L149.0,119.5L149.1,118.8L149.2,118.1L149.2,117.4L149.3,116.8L149.4,116.1L149.5,115.4L149.6,114.7L149.6,114.1L149.7,113.4L149.8,112.7L149.9,112.0L150.0,111.4L150.0,110.7L150.1,110.0L150.2,109.4L150.3,108.7L150.4,108.0L150.5,107.3L150.5,106.7L150.6,106.0L150.7,105.3L150.8,104.7L150.9,104.0L151.0,103.3L151.1,102.7L151.1,102.0L151.2,101.3L151.3,100.7L151.4,100.0L151.5,99.4L151.6,98.7L151.7,98.0L151.8,97.4L151.9,96.7L151.9,96.1L152.0,95.4L152.1,94.8L152.2,94.1L152.3,93.5L152.4,92.8L152.5,92.2L152.6,91.5L152.7,90.9L152.8,90.2L152.9,89.6L153.0,88.9L153.1,88.3L153.2,87.6L153.4,86.9L153.5,86.3L153.6,85.6L153.7,84.9L153.9,84.3L154.0,83.6L154.1,82.9L154.3,82.2L154.4,81.5L154.6,80.8L154.8,80.1L154.9,79.4L155.1,78.6L155.3,77.9L155.5,77.1L155.7,76.4L155.9,75.6L156.1,74.9L156.3,74.1L156.5,73.3L156.8,72.5L157.0,71.8L157.2,71.0L157.5,70.3L157.8,69.7L158.0,69.0L158.3,68.5L158.6,67.9L158.8,67.5L159.4,66.8L160.0,66.4L160.6,66.4L161.2,66.7L161.7,67.4L162.0,67.9L162.3,68.4L162.6,68.9L162.9,69.5L163.2,70.2L163.5,70.9L163.7,71.6L164.0,72.4L164.3,73.1L164.5,73.9L164.8,74.7L165.0,75.4L165.2,76.2L165.4,77.0L165.6,77.7L165.8,78.4L166.0,79.2L166.2,79.9L166.4,80.6L166.6,81.3L166.8,82.0L166.9,82.7L167.1,83.4L167.2,84.1L167.4,84.8L167.5,85.5L167.7,86.2L167.8,86.9L168.0,87.6L168.1,88.2L168.2,88.9L168.3,89.6L168.5,90.2L168.6,90.9L168.7,91.6L168.8,92.2L169.0,92.9L169.1,93.5L169.2,94.2L169.3,94.9L169.5,95.5L169.6,96.2L169.7,96.8L169.8,97.5L170.0,98.2L170.1,98.8L170.2,99.5L170.3,100.1L170.5,100.8L170.6,101.5L170.7,102.1L170.9,102.8L171.0,103.4L171.1,104.1L171.3,104.8L171.4,105.4L171.5,106.1L171.7,106.7L171.8,107.4L171.9,108.0L172.1,108.7L172.2,109.4L172.3,110.0L172.5,110.7L172.6,111.3L172.7,112.0L172.9,112.6L173.0,113.3L173.2,114.0L173.3,114.6L173.4,115.3L173.6,115.9L173.7,116.6L173.9,117.2L174.0,117.9L174.2,118.6L174.3,119.2L174.4,119.9L174.6,120.5L174.7,121.2L174.9,121.8L175.0,122.5L175.2,123.2L175.3,123.8L175.5,124.5L175.6,125.1L175.8,125.8L175.9,126.4L176.1,127.1L176.2,127.7L176.4,128.4L176.5,129.1L176.7,129.7L176.8,130.4L177.0,131.0L177.2,131.7L177.3,132.3L177.5,133.0L177.6,133.6L177.8,134.3L177.9,135.0L178.1,135.6L178.3,136.3L178.4,136.9L178.6,137.6L178.7,138.2L178.9,138.9L179.1,139.5L179.2,140.2L179.4,140.8L179.6,141.5L179.7,142.2L179.9,142.8L180.0,143.5L180.2,144.1L180.4,144.8L180.5,145.4L180.7,146.1L180.9,146.7L181.1,147.4L181.2,148.0L181.4,148.7L181.6,149.3L181.7,150.0L181.9,150.6L182.1,151.3L182.3,152.0L182.4,152.6L182.6,153.3L182.8,153.9L182.9,154.6L183.1,155.2L183.3,155.9L183.5,156.5L183.7,157.2L183.8,157.8L184.0,158.5L184.2,159.1L184.4,159.8L184.5,160.4L184.7,161.1L184.9,161.7L185.1,162.4L185.3,163.0L185.5,163.7L185.6,164.3L185.8,165.0L186.0,165.6L186.2,166.3L186.4,166.9L186.6,167.6L186.8,168.2L186.9,168.9L187.1,169.6L187.3,170.2L187.5,170.9L187.7,171.5L187.9,172.2L188.1,172.8L188.3,173.5L188.5,174.1L188.6,174.8L188.8,175.4L189.0,176.1L189.2,176.7L189.4,177.4L189.6,178.0L189.8,178.7L190.0,179.3L190.2,180.0L190.4,180.6L190.6,181.3L190.8,181.9L191.0,182.5L191.2,183.2L191.4,183.8L191.6,184.5L191.8,185.1L192.0,185.8L192.2,186.4L192.4,187.1L192.6,187.7L192.8,188.4L193.0,189.0L193.2,189.7L193.4,190.3L193.6,191.0L193.8,191.6L194.0,192.3L194.3,192.9L194.5,193.6L194.7,194.2L194.9,194.9L195.1,195.5L195.3,196.2L195.5,196.8L195.7,197.5L195.9,198.1L196.1,198.8L196.4,199.4L196.6,200.1L196.8,200.7L197.0,201.3L197.2,202.0L197.4,202.6L197.6,203.3L197.9,203.9L198.1,204.6L198.3,205.2L198.5,205.9L198.7,206.5L199.0,207.2L199.2,207.8L199.4,208.5L199.6,209.1L199.8,209.8L200.1,210.4L200.3,211.0L200.5,211.7L200.7,212.3L201.0,213.0L201.2,213.6L201.4,214.3L201.6,214.9L201.9,215.6L202.1,216.2L202.3,216.9L202.5,217.5L202.8,218.1L203.0,218.8L203.2,219.4L203.5,220.1L203.7,220.7L203.9,221.4L204.2,222.0L204.4,222.6L204.7,223.3L204.9,223.9L205.2,224.5L205.4,225.2L205.7,225.8L205.9,226.4L206.2,227.0L206.5,227.7L206.7,228.3L207.0,228.9L207.3,229.5L207.6,230.1L207.9,230.7L208.1,231.3L208.4,231.9L208.7,232.5L209.0,233.1L209.4,233.7L209.7,234.3L210.0,234.9L210.3,235.5L210.7,236.1L211.0,236.6L211.3,237.2L211.7,237.8L212.1,238.3L212.4,238.9L212.8,239.4L213.2,240.0L213.6,240.5L214.0,241.0L214.4,241.6L214.8,242.1L215.2,242.6L215.6,243.1L216.0,243.6L216.5,244.1L216.9,244.6L217.4,245.1L217.9,245.6L218.3,246.0L218.8,246.5L219.3,246.9L219.8,247.4L220.3,247.8L220.9,248.3L221.4,248.7L222.0,249.1L222.5,249.5L223.1,249.9L223.6,250.3L224.2,250.7L224.8,251.1L225.4,251.4L226.0,251.8L226.7,252.1L227.3,252.4L227.9,252.7L228.5,252.9L229.2,253.2L229.8,253.4L230.5,253.6L231.2,253.7L231.8,253.9L232.5,254.0L233.2,254.1L233.9,254.1L234.5,254.2L235.2,254.1L235.9,254.1L236.6,254.0L237.3,253.9L238.0,253.8L238.0,253.8" fill="none" stroke="#333" stroke-width="1.05"/>
<path d="M122.40,253.80L122.8,253.3L123.2,252.9L123.6,252.4L123.9,251.9L124.3,251.5L124.7,251.0L125.1,250.5L125.4,250.1L125.8,249.6L126.1,249.1L126.5,248.6L126.8,248.2L127.1,247.7L127.5,247.2L127.8,246.7L128.1,246.2L128.4,245.7L128.7,245.2L129.0,244.7L129.3,244.2L129.6,243.7L129.9,243.3L130.2,242.8L130.5,242.2L130.8,241.7L131.1,241.2L131.3,240.7L131.6,240.2L131.9,239.7L132.1,239.2L132.4,238.7L132.6,238.2L132.9,237.7L133.1,237.1L133.4,236.6L133.6,236.1L133.8,235.6L134.1,235.1L134.3,234.5L134.5,234.0L134.7,233.5L134.9,232.9L135.2,232.4L135.4,231.9L135.6,231.3L135.8,230.8L136.0,230.3L136.2,229.7L136.4,229.2L136.6,228.6L136.8,228.1L137.0,227.6L137.1,227.0L137.3,226.5L137.5,225.9L137.7,225.4L137.9,224.8L138.0,224.3L138.2,223.7L138.4,223.2L138.5,222.6L138.7,222.0L138.9,221.5L139.0,220.9L139.2,220.4L139.3,219.8L139.5,219.2L139.7,218.7L139.8,218.1L140.0,217.5L140.1,217.0L140.3,216.4L140.4,215.8L140.5,215.3L140.7,214.7L140.8,214.1L141.0,213.5L141.1,213.0L141.3,212.4L141.4,211.8L141.5,211.2L141.7,210.7L141.8,210.1L141.9,209.5L142.1,208.9L142.2,208.3L142.3,207.8L142.4,207.2L142.6,206.6L142.7,206.0L142.8,205.4L142.9,204.8L143.1,204.3L143.2,203.7L143.3,203.1L143.4,202.5L143.6,201.9L143.7,201.3L143.8,200.7L143.9,200.2L144.0,199.6L144.1,199.0L144.3,198.4L144.4,197.8L144.5,197.2L144.6,196.6L144.7,196.0L144.8,195.5L144.9,194.9L145.1,194.3L145.2,193.7L145.3,193.1L145.4,192.5L145.5,191.9L145.6,191.4L145.7,190.8L145.8,190.2L145.9,189.6L146.0,189.0L146.1,188.5L146.2,187.9L146.4,187.3L146.5,186.7L146.6,186.1L146.7,185.6L146.8,185.0L146.9,184.4L147.0,183.8L147.1,183.2L147.2,182.7L147.3,182.1L147.4,181.5L147.5,181.0L147.6,180.4L147.7,179.8L147.8,179.3L147.9,178.7L148.0,178.1L148.2,177.6L148.3,177.0L148.4,176.4L148.5,175.9L148.6,175.3L148.7,174.8L148.8,174.2L148.9,173.7L149.0,173.1L149.1,172.6L149.2,172.0L149.3,171.5L149.4,170.9L149.6,170.4L149.7,169.8L149.8,169.3L149.9,168.8L150.0,168.2L150.1,167.7L150.2,167.2L150.3,166.6L150.5,166.1L150.6,165.6L150.7,165.1L150.8,164.5L150.9,164.0L151.0,163.5L151.2,163.0L151.3,162.5L151.4,162.0L151.5,161.5L151.6,160.9L151.8,160.4L151.9,159.9L152.0,159.4L152.1,158.9L152.2,158.4L152.4,157.9L152.5,157.4L152.6,156.9L152.8,156.3L152.9,155.8L153.0,155.3L153.1,154.8L153.3,154.3L153.4,153.8L153.5,153.2L153.7,152.7L153.8,152.2L153.9,151.7L154.1,151.1L154.2,150.6L154.3,150.1L154.5,149.5L154.6,149.0L154.8,148.4L154.9,147.9L155.0,147.3L155.2,146.8L155.3,146.2L155.5,145.7L155.6,145.1L155.7,144.5L155.9,143.9L156.0,143.3L156.2,142.7L156.3,142.2L156.5,141.5L156.6,140.9L156.8,140.3L156.9,139.7L157.1,139.1L157.2,138.4L157.4,137.8L157.5,137.2L157.7,136.5L157.8,135.8L158.0,135.2L158.1,134.5L158.3,133.8L158.5,133.1L158.6,132.4L158.8,131.7L158.9,131.0L159.1,130.3L159.3,129.5L159.4,128.8L159.6,128.0L159.8,127.3L159.9,126.5L160.1,125.7L160.3,124.9L160.4,124.2L160.6,123.4L160.8,122.6L160.9,121.8L161.1,121.1L161.3,120.3L161.4,119.5L161.6,118.8L161.8,118.0L162.0,117.3L162.1,116.5L162.3,115.8L162.5,115.1L162.7,114.4L162.9,113.7L163.0,113.1L163.2,112.4L163.4,111.8L163.6,111.2L163.8,110.6L164.0,110.1L164.2,109.5L164.4,109.0L164.5,108.5L164.9,107.6L165.3,106.9L165.7,106.2L166.1,105.8L166.5,105.4L167.1,105.2L167.8,105.4L168.2,105.8L168.6,106.3L169.0,107.0L169.5,107.8L169.9,108.7L170.1,109.2L170.3,109.8L170.5,110.3L170.8,110.9L171.0,111.5L171.2,112.1L171.4,112.7L171.6,113.3L171.8,114.0L172.0,114.6L172.3,115.3L172.5,116.0L172.7,116.6L172.9,117.3L173.1,118.0L173.3,118.7L173.5,119.3L173.7,120.0L173.9,120.6L174.1,121.3L174.3,121.9L174.5,122.6L174.7,123.2L174.8,123.8L175.0,124.4L175.2,125.0L175.4,125.6L175.6,126.2L175.8,126.8L175.9,127.4L176.1,128.0L176.3,128.6L176.5,129.1L176.7,129.7L176.8,130.3L177.0,130.8L177.2,131.4L177.3,132.0L177.5,132.5L177.7,133.1L177.9,133.6L178.0,134.2L178.2,134.7L178.4,135.3L178.5,135.8L178.7,136.4L178.9,136.9L179.0,137.4L179.2,138.0L179.3,138.5L179.5,139.1L179.7,139.6L179.8,140.2L180.0,140.7L180.2,141.3L180.3,141.8L180.5,142.4L180.7,142.9L180.8,143.5L181.0,144.0L181.2,144.6L181.3,145.1L181.5,145.7L181.7,146.2L181.8,146.8L182.0,147.3L182.2,147.9L182.3,148.4L182.5,149.0L182.7,149.5L182.8,150.1L183.0,150.6L183.2,151.2L183.3,151.7L183.5,152.3L183.7,152.8L183.9,153.4L184.0,154.0L184.2,154.5L184.4,155.1L184.5,155.6L184.7,156.2L184.9,156.7L185.1,157.3L185.2,157.8L185.4,158.4L185.6,158.9L185.8,159.5L186.0,160.1L186.1,160.6L186.3,161.2L186.5,161.7L186.7,162.3L186.9,162.8L187.0,163.4L187.2,163.9L187.4,164.5L187.6,165.0L187.8,165.6L188.0,166.1L188.2,166.7L188.4,167.2L188.6,167.8L188.7,168.3L188.9,168.9L189.1,169.4L189.3,170.0L189.5,170.5L189.7,171.1L189.9,171.6L190.1,172.2L190.3,172.7L190.5,173.3L190.7,173.8L190.9,174.4L191.1,174.9L191.4,175.4L191.6,176.0L191.8,176.5L192.0,177.1L192.2,177.6L192.4,178.2L192.6,178.7L192.9,179.2L193.1,179.8L193.3,180.3L193.5,180.9L193.7,181.4L194.0,181.9L194.2,182.5L194.4,183.0L194.6,183.5L194.9,184.1L195.1,184.6L195.3,185.1L195.6,185.7L195.8,186.2L196.0,186.7L196.3,187.3L196.5,187.8L196.7,188.3L197.0,188.9L197.2,189.4L197.5,189.9L197.7,190.4L197.9,191.0L198.2,191.5L198.4,192.0L198.7,192.6L198.9,193.1L199.2,193.6L199.4,194.1L199.7,194.7L199.9,195.2L200.2,195.7L200.4,196.2L200.7,196.8L200.9,197.3L201.2,197.8L201.5,198.3L201.7,198.8L202.0,199.4L202.2,199.9L202.5,200.4L202.7,200.9L203.0,201.5L203.3,202.0L203.5,202.5L203.8,203.0L204.1,203.5L204.3,204.1L204.6,204.6L204.9,205.1L205.1,205.6L205.4,206.1L205.7,206.6L205.9,207.2L206.2,207.7L206.5,208.2L206.7,208.7L207.0,209.2L207.3,209.8L207.6,210.3L207.8,210.8L208.1,211.3L208.4,211.8L208.6,212.3L208.9,212.9L209.2,213.4L209.5,213.9L209.7,214.4L210.0,214.9L210.3,215.4L210.6,215.9L210.9,216.5L211.1,217.0L211.4,217.5L211.7,218.0L212.0,218.5L212.3,219.0L212.5,219.5L212.8,220.1L213.1,220.6L213.4,221.1L213.7,221.6L214.0,222.1L214.3,222.6L214.6,223.1L214.9,223.6L215.2,224.1L215.4,224.6L215.7,225.1L216.0,225.6L216.3,226.1L216.7,226.6L217.0,227.1L217.3,227.6L217.6,228.1L217.9,228.6L218.2,229.1L218.5,229.6L218.8,230.1L219.2,230.6L219.5,231.1L219.8,231.5L220.1,232.0L220.5,232.5L220.8,233.0L221.1,233.5L221.5,233.9L221.8,234.4L222.2,234.9L222.5,235.3L222.9,235.8L223.2,236.3L223.6,236.7L223.9,237.2L224.3,237.6L224.7,238.1L225.0,238.5L225.4,239.0L225.8,239.4L226.2,239.8L226.6,240.3L227.0,240.7L227.3,241.1L227.7,241.6L228.1,242.0L228.6,242.4L229.0,242.8L229.4,243.2L229.8,243.7L230.2,244.1L230.6,244.5L231.1,244.9L231.5,245.2L232.0,245.6L232.4,246.0L232.8,246.4L233.3,246.8L233.8,247.1L234.2,247.5L234.7,247.8L235.1,248.2L235.6,248.5L236.1,248.8L236.6,249.1L237.1,249.4L237.6,249.7L238.1,250.0L238.6,250.3L239.1,250.6L239.6,250.9L240.1,251.1L240.6,251.4L241.1,251.6L241.7,251.8L242.2,252.0L242.7,252.2L243.3,252.4L243.8,252.6L244.4,252.8L244.9,252.9L245.5,253.0L246.0,253.2L246.6,253.3L247.2,253.4L247.8,253.5L248.3,253.6L248.9,253.6L249.5,253.7L250.1,253.8L250.7,253.8L251.3,253.9L251.9,253.9L252.5,253.9L253.1,253.9L253.7,253.9L254.3,253.9L254.9,253.9L255.5,253.9L256.1,253.9L256.7,253.9L257.3,253.9L257.9,253.9L258.5,253.9L259.1,253.9L259.6,253.8L260.2,253.8L260.8,253.8L261.4,253.8L262.0,253.8L262.6,253.8L263.2,253.8L263.7,253.7L264.3,253.7L264.9,253.7L265.4,253.7L266.0,253.7L266.0,253.7" fill="none" stroke="#ff9e2c" stroke-width="1.05"/>
<path d="M113,253.8 L123,253.8 M262,253.8 L335,253.8" fill="none" stroke="#ff9e2c" stroke-width="1.4"/>
<rect x="270" y="9.5" width="122" height="79" fill="#fff" stroke="#000" stroke-width="2.6"/>
<line x1="325" y1="21.8" x2="383.5" y2="21.8" stroke="#000" stroke-width="3"/>
<text x="292.6" y="27.5" font-size="10.5" font-weight="bold" fill="#000" textLength="23.2" lengthAdjust="spacingAndGlyphs">CON</text>
<line x1="325" y1="36.7" x2="383.5" y2="36.7" stroke="#ff22aa" stroke-width="3"/>
<text x="294.1" y="41.6" font-size="10.5" font-weight="bold" fill="#000" textLength="23.1" lengthAdjust="spacingAndGlyphs">M10</text>
<line x1="325" y1="51.4" x2="383.5" y2="51.4" stroke="#1f9a3c" stroke-width="3"/>
<text x="295.8" y="56.4" font-size="10.5" font-weight="bold" fill="#000" textLength="17.0" lengthAdjust="spacingAndGlyphs">ISO</text>
<line x1="325" y1="66.3" x2="383.5" y2="66.3" stroke="#ffa020" stroke-width="3"/>
<text x="278.6" y="70.9" font-size="10.5" font-weight="bold" fill="#000" textLength="45.7" lengthAdjust="spacingAndGlyphs">ISO+M10</text>
<line x1="84.2" y1="333" x2="84.2" y2="577.6" stroke="#bbb" stroke-width="1.3"/>
<line x1="78.5" y1="576.60" x2="84.2" y2="576.60" stroke="#aaa" stroke-width="1.2"/>
<text x="77.4" y="580.20" font-size="10" text-anchor="end" fill="#2a2a3a" stroke="#2a2a3a" stroke-width="0.25" textLength="5.6" lengthAdjust="spacingAndGlyphs">0</text>
<line x1="81" y1="568.54" x2="84.2" y2="568.54" stroke="#aaa" stroke-width="1.1"/>
<line x1="81" y1="560.48" x2="84.2" y2="560.48" stroke="#aaa" stroke-width="1.1"/>
<line x1="81" y1="552.42" x2="84.2" y2="552.42" stroke="#aaa" stroke-width="1.1"/>
<line x1="81" y1="544.36" x2="84.2" y2="544.36" stroke="#aaa" stroke-width="1.1"/>
<line x1="78.5" y1="536.30" x2="84.2" y2="536.30" stroke="#aaa" stroke-width="1.2"/>
<text x="77.4" y="539.90" font-size="10" text-anchor="end" fill="#2a2a3a" stroke="#2a2a3a" stroke-width="0.25" textLength="16.0" lengthAdjust="spacingAndGlyphs">500</text>
<line x1="81" y1="528.24" x2="84.2" y2="528.24" stroke="#aaa" stroke-width="1.1"/>
<line x1="81" y1="520.18" x2="84.2" y2="520.18" stroke="#aaa" stroke-width="1.1"/>
<line x1="81" y1="512.12" x2="84.2" y2="512.12" stroke="#aaa" stroke-width="1.1"/>
<line x1="81" y1="504.06" x2="84.2" y2="504.06" stroke="#aaa" stroke-width="1.1"/>
<line x1="78.5" y1="496.00" x2="84.2" y2="496.00" stroke="#aaa" stroke-width="1.2"/>
<text x="77.4" y="499.60" font-size="10" text-anchor="end" fill="#2a2a3a" stroke="#2a2a3a" stroke-width="0.25" textLength="21.0" lengthAdjust="spacingAndGlyphs">1000</text>
<line x1="81" y1="487.94" x2="84.2" y2="487.94" stroke="#aaa" stroke-width="1.1"/>
<line x1="81" y1="479.88" x2="84.2" y2="479.88" stroke="#aaa" stroke-width="1.1"/>
<line x1="81" y1="471.82" x2="84.2" y2="471.82" stroke="#aaa" stroke-width="1.1"/>
<line x1="81" y1="463.76" x2="84.2" y2="463.76" stroke="#aaa" stroke-width="1.1"/>
<line x1="78.5" y1="455.70" x2="84.2" y2="455.70" stroke="#aaa" stroke-width="1.2"/>
<text x="77.4" y="459.30" font-size="10" text-anchor="end" fill="#2a2a3a" stroke="#2a2a3a" stroke-width="0.25" textLength="21.0" lengthAdjust="spacingAndGlyphs">1500</text>
<line x1="81" y1="447.64" x2="84.2" y2="447.64" stroke="#aaa" stroke-width="1.1"/>
<line x1="81" y1="439.58" x2="84.2" y2="439.58" stroke="#aaa" stroke-width="1.1"/>
<line x1="81" y1="431.52" x2="84.2" y2="431.52" stroke="#aaa" stroke-width="1.1"/>
<line x1="81" y1="423.46" x2="84.2" y2="423.46" stroke="#aaa" stroke-width="1.1"/>
<line x1="78.5" y1="415.40" x2="84.2" y2="415.40" stroke="#aaa" stroke-width="1.2"/>
<text x="77.4" y="419.00" font-size="10" text-anchor="end" fill="#2a2a3a" stroke="#2a2a3a" stroke-width="0.25" textLength="21.0" lengthAdjust="spacingAndGlyphs">2000</text>
<line x1="81" y1="407.34" x2="84.2" y2="407.34" stroke="#aaa" stroke-width="1.1"/>
<line x1="81" y1="399.28" x2="84.2" y2="399.28" stroke="#aaa" stroke-width="1.1"/>
<line x1="81" y1="391.22" x2="84.2" y2="391.22" stroke="#aaa" stroke-width="1.1"/>
<line x1="81" y1="383.16" x2="84.2" y2="383.16" stroke="#aaa" stroke-width="1.1"/>
<line x1="78.5" y1="375.10" x2="84.2" y2="375.10" stroke="#aaa" stroke-width="1.2"/>
<text x="77.4" y="378.70" font-size="10" text-anchor="end" fill="#2a2a3a" stroke="#2a2a3a" stroke-width="0.25" textLength="21.4" lengthAdjust="spacingAndGlyphs">2500</text>
<line x1="81" y1="367.04" x2="84.2" y2="367.04" stroke="#aaa" stroke-width="1.1"/>
<line x1="81" y1="358.98" x2="84.2" y2="358.98" stroke="#aaa" stroke-width="1.1"/>
<line x1="81" y1="350.92" x2="84.2" y2="350.92" stroke="#aaa" stroke-width="1.1"/>
<line x1="81" y1="342.86" x2="84.2" y2="342.86" stroke="#aaa" stroke-width="1.1"/>
<line x1="83" y1="577.3" x2="355" y2="577.3" stroke="#bbb" stroke-width="2"/>
<line x1="89.26" y1="577" x2="89.26" y2="580.3" stroke="#bbb" stroke-width="1"/>
<line x1="96.01" y1="577" x2="96.01" y2="580.3" stroke="#bbb" stroke-width="1"/>
<line x1="101.24" y1="577" x2="101.24" y2="580.3" stroke="#bbb" stroke-width="1"/>
<line x1="105.52" y1="577" x2="105.52" y2="580.3" stroke="#bbb" stroke-width="1"/>
<line x1="109.14" y1="577" x2="109.14" y2="580.3" stroke="#bbb" stroke-width="1"/>
<line x1="112.27" y1="577" x2="112.27" y2="580.3" stroke="#bbb" stroke-width="1"/>
<line x1="115.03" y1="577" x2="115.03" y2="580.3" stroke="#bbb" stroke-width="1"/>
<line x1="117.50" y1="577" x2="117.50" y2="582.5" stroke="#aaa" stroke-width="1.2"/>
<line x1="133.76" y1="577" x2="133.76" y2="580.3" stroke="#bbb" stroke-width="1"/>
<line x1="143.26" y1="577" x2="143.26" y2="580.3" stroke="#bbb" stroke-width="1"/>
<line x1="150.01" y1="577" x2="150.01" y2="580.3" stroke="#bbb" stroke-width="1"/>
<line x1="155.24" y1="577" x2="155.24" y2="580.3" stroke="#bbb" stroke-width="1"/>
<line x1="159.52" y1="577" x2="159.52" y2="580.3" stroke="#bbb" stroke-width="1"/>
<line x1="163.14" y1="577" x2="163.14" y2="580.3" stroke="#bbb" stroke-width="1"/>
<line x1="166.27" y1="577" x2="166.27" y2="580.3" stroke="#bbb" stroke-width="1"/>
<line x1="169.03" y1="577" x2="169.03" y2="580.3" stroke="#bbb" stroke-width="1"/>
<line x1="171.50" y1="577" x2="171.50" y2="582.5" stroke="#aaa" stroke-width="1.2"/>
<line x1="187.76" y1="577" x2="187.76" y2="580.3" stroke="#bbb" stroke-width="1"/>
<line x1="197.26" y1="577" x2="197.26" y2="580.3" stroke="#bbb" stroke-width="1"/>
<line x1="204.01" y1="577" x2="204.01" y2="580.3" stroke="#bbb" stroke-width="1"/>
<line x1="209.24" y1="577" x2="209.24" y2="580.3" stroke="#bbb" stroke-width="1"/>
<line x1="213.52" y1="577" x2="213.52" y2="580.3" stroke="#bbb" stroke-width="1"/>
<line x1="217.14" y1="577" x2="217.14" y2="580.3" stroke="#bbb" stroke-width="1"/>
<line x1="220.27" y1="577" x2="220.27" y2="580.3" stroke="#bbb" stroke-width="1"/>
<line x1="223.03" y1="577" x2="223.03" y2="580.3" stroke="#bbb" stroke-width="1"/>
<line x1="225.50" y1="577" x2="225.50" y2="582.5" stroke="#aaa" stroke-width="1.2"/>
<line x1="241.76" y1="577" x2="241.76" y2="580.3" stroke="#bbb" stroke-width="1"/>
<line x1="251.26" y1="577" x2="251.26" y2="580.3" stroke="#bbb" stroke-width="1"/>
<line x1="258.01" y1="577" x2="258.01" y2="580.3" stroke="#bbb" stroke-width="1"/>
<line x1="263.24" y1="577" x2="263.24" y2="580.3" stroke="#bbb" stroke-width="1"/>
<line x1="267.52" y1="577" x2="267.52" y2="580.3" stroke="#bbb" stroke-width="1"/>
<line x1="271.14" y1="577" x2="271.14" y2="580.3" stroke="#bbb" stroke-width="1"/>
<line x1="274.27" y1="577" x2="274.27" y2="580.3" stroke="#bbb" stroke-width="1"/>
<line x1="277.03" y1="577" x2="277.03" y2="580.3" stroke="#bbb" stroke-width="1"/>
<line x1="279.50" y1="577" x2="279.50" y2="582.5" stroke="#aaa" stroke-width="1.2"/>
<line x1="295.76" y1="577" x2="295.76" y2="580.3" stroke="#bbb" stroke-width="1"/>
<line x1="305.26" y1="577" x2="305.26" y2="580.3" stroke="#bbb" stroke-width="1"/>
<line x1="312.01" y1="577" x2="312.01" y2="580.3" stroke="#bbb" stroke-width="1"/>
<line x1="317.24" y1="577" x2="317.24" y2="580.3" stroke="#bbb" stroke-width="1"/>
<line x1="321.52" y1="577" x2="321.52" y2="580.3" stroke="#bbb" stroke-width="1"/>
<line x1="325.14" y1="577" x2="325.14" y2="580.3" stroke="#bbb" stroke-width="1"/>
<line x1="328.27" y1="577" x2="328.27" y2="580.3" stroke="#bbb" stroke-width="1"/>
<line x1="331.03" y1="577" x2="331.03" y2="580.3" stroke="#bbb" stroke-width="1"/>
<line x1="333.50" y1="577" x2="333.50" y2="582.5" stroke="#aaa" stroke-width="1.2"/>
<line x1="349.76" y1="577" x2="349.76" y2="580.3" stroke="#bbb" stroke-width="1"/>
<text x="119.00" y="591.00" font-size="9.8" text-anchor="middle" fill="#333" stroke="#2a2a3a" stroke-width="0.2">10<tspan font-size="6.9" dy="-4">1</tspan></text>
<text x="173.00" y="591.00" font-size="9.8" text-anchor="middle" fill="#333" stroke="#2a2a3a" stroke-width="0.2">10<tspan font-size="6.9" dy="-4">2</tspan></text>
<text x="227.00" y="591.00" font-size="9.8" text-anchor="middle" fill="#333" stroke="#2a2a3a" stroke-width="0.2">10<tspan font-size="6.9" dy="-4">3</tspan></text>
<text x="281.00" y="591.00" font-size="9.8" text-anchor="middle" fill="#333" stroke="#2a2a3a" stroke-width="0.2">10<tspan font-size="6.9" dy="-4">4</tspan></text>
<text x="335.00" y="591.00" font-size="9.8" text-anchor="middle" fill="#333" stroke="#2a2a3a" stroke-width="0.2">10<tspan font-size="6.9" dy="-4">5</tspan></text>
<text x="203.8" y="606.3" font-size="13.2" fill="#2a2a3a" stroke="#2a2a3a" stroke-width="0.2" textLength="40.5" lengthAdjust="spacingAndGlyphs">FITC-A</text>
<text transform="translate(55,454.6) rotate(-90)" x="0" y="0" font-size="13.5" text-anchor="middle" fill="#2a2a3a" stroke="#2a2a3a" stroke-width="0.25">Count</text>
<path d="M93.30,577.00 C94.73,565.97 96.24,543.89 97.60,543.90 C98.93,543.91 100.13,564.97 101.40,575.50" fill="none" stroke="#22d660" stroke-width="1.2"/>
<path d="M101.82,576.73L102.5,576.5L103.3,576.2L104.0,575.9L104.8,575.7L105.5,575.5L106.3,575.3L107.1,575.1L107.9,574.9L108.7,574.7L109.5,574.5L110.3,574.4L111.2,574.2L112.0,574.1L112.9,574.0L113.7,573.8L114.6,573.7L115.5,573.6L116.3,573.5L117.2,573.4L118.1,573.3L119.0,573.2L119.9,573.1L120.8,573.0L121.7,572.9L122.6,572.8L123.5,572.8L124.4,572.7L125.4,572.6L126.3,572.5L127.2,572.4L128.1,572.3L129.0,572.2L129.9,572.1L130.9,572.0L131.8,571.9L132.7,571.8L133.6,571.7L134.5,571.6L135.4,571.5L136.3,571.3L137.2,571.2L138.1,571.0L139.0,570.9L139.9,570.7L140.8,570.5L141.7,570.3L142.5,570.1L143.4,569.9L144.2,569.7L145.1,569.5L145.9,569.2L146.8,569.0L147.6,568.7L148.4,568.4L149.2,568.1L150.0,567.8L150.8,567.4L151.6,567.1L152.4,566.7L153.1,566.4L153.9,566.0L154.6,565.6L155.4,565.2L156.1,564.8L156.9,564.4L157.6,563.9L158.3,563.5L159.0,563.0L159.7,562.5L160.4,562.1L161.1,561.6L161.8,561.1L162.4,560.6L163.1,560.0L163.8,559.5L164.4,559.0L165.1,558.4L165.7,557.9L166.3,557.3L167.0,556.7L167.6,556.1L168.2,555.5L168.8,554.9L169.4,554.3L170.0,553.7L170.6,553.1L171.2,552.5L171.7,551.8L172.3,551.2L172.9,550.5L173.4,549.9L174.0,549.2L174.5,548.5L175.1,547.8L175.6,547.2L176.1,546.5L176.6,545.8L177.2,545.1L177.7,544.4L178.2,543.7L178.7,542.9L179.2,542.2L179.7,541.5L180.2,540.8L180.6,540.0L181.1,539.3L181.6,538.5L182.1,537.8L182.5,537.1L183.0,536.3L183.4,535.5L183.9,534.8L184.3,534.0L184.7,533.3L185.2,532.5L185.6,531.7L186.0,531.0L186.5,530.2L186.9,529.4L187.3,528.6L187.7,527.9L188.1,527.1L188.5,526.3L188.9,525.5L189.3,524.7L189.7,524.0L190.1,523.2L190.4,522.4L190.8,521.6L191.2,520.8L191.6,520.0L191.9,519.2L192.3,518.5L192.6,517.7L193.0,516.9L193.3,516.1L193.7,515.3L194.0,514.5L194.4,513.7L194.7,512.9L195.0,512.1L195.4,511.3L195.7,510.5L196.0,509.7L196.3,508.9L196.6,508.1L197.0,507.3L197.3,506.5L197.6,505.7L197.9,504.8L198.2,504.0L198.5,503.2L198.8,502.4L199.1,501.6L199.3,500.8L199.6,500.0L199.9,499.2L200.2,498.3L200.5,497.5L200.7,496.7L201.0,495.9L201.3,495.1L201.5,494.2L201.8,493.4L202.1,492.6L202.3,491.8L202.6,491.0L202.8,490.1L203.1,489.3L203.3,488.5L203.6,487.7L203.8,486.8L204.0,486.0L204.3,485.2L204.5,484.3L204.8,483.5L205.0,482.7L205.2,481.8L205.4,481.0L205.7,480.2L205.9,479.3L206.1,478.5L206.3,477.7L206.5,476.8L206.8,476.0L207.0,475.1L207.2,474.3L207.4,473.5L207.6,472.6L207.8,471.8L208.0,470.9L208.2,470.1L208.4,469.3L208.6,468.4L208.8,467.6L209.0,466.7L209.2,465.9L209.4,465.0L209.6,464.2L209.8,463.3L210.0,462.5L210.1,461.6L210.3,460.8L210.5,459.9L210.7,459.1L210.9,458.2L211.1,457.4L211.2,456.5L211.4,455.7L211.6,454.8L211.8,454.0L211.9,453.1L212.1,452.3L212.3,451.4L212.5,450.6L212.6,449.7L212.8,448.8L213.0,448.0L213.1,447.1L213.3,446.3L213.5,445.4L213.6,444.6L213.8,443.7L214.0,442.8L214.1,442.0L214.3,441.1L214.5,440.3L214.6,439.4L214.8,438.5L215.0,437.7L215.1,436.8L215.3,436.0L215.4,435.1L215.6,434.2L215.8,433.4L215.9,432.5L216.1,431.6L216.2,430.8L216.4,429.9L216.6,429.1L216.7,428.2L216.9,427.3L217.1,426.5L217.2,425.6L217.4,424.7L217.5,423.9L217.7,423.0L217.9,422.1L218.0,421.3L218.2,420.4L218.3,419.5L218.5,418.7L218.7,417.8L218.8,416.9L219.0,416.1L219.2,415.2L219.3,414.3L219.5,413.5L219.7,412.6L219.8,411.7L220.0,410.9L220.2,410.0L220.3,409.1L220.5,408.3L220.7,407.4L220.8,406.5L221.0,405.7L221.2,404.8L221.4,403.9L221.5,403.1L221.7,402.2L221.9,401.3L222.1,400.5L222.2,399.6L222.4,398.7L222.6,397.9L222.8,397.0L223.0,396.1L223.2,395.3L223.3,394.4L223.5,393.6L223.7,392.7L223.9,391.8L224.1,391.0L224.3,390.1L224.5,389.2L224.7,388.4L224.9,387.5L225.1,386.6L225.3,385.8L225.5,384.9L225.7,384.0L225.9,383.2L226.1,382.3L226.3,381.4L226.5,380.6L226.7,379.7L227.0,378.9L227.2,378.0L227.4,377.1L227.6,376.3L227.9,375.4L228.1,374.6L228.3,373.7L228.6,372.9L228.8,372.0L229.1,371.2L229.4,370.4L229.7,369.6L229.9,368.7L230.2,367.9L230.6,367.1L230.9,366.4L231.2,365.6L231.6,364.8L232.0,364.1L232.4,363.4L232.8,362.6L233.2,361.9L233.6,361.2L234.1,360.6L234.6,359.9L235.1,359.3L235.6,358.6L236.1,358.1L236.6,357.6L237.2,357.2L237.7,356.9L238.2,356.8L239.1,357.1L239.5,357.5L239.9,358.0L240.3,358.7L240.6,359.4L241.0,360.1L241.3,360.9L241.7,361.8L242.0,362.6L242.3,363.4L242.6,364.3L242.9,365.1L243.2,366.0L243.5,366.8L243.7,367.7L244.0,368.5L244.3,369.4L244.5,370.2L244.8,371.1L245.0,371.9L245.3,372.8L245.5,373.6L245.7,374.5L245.9,375.3L246.2,376.2L246.4,377.1L246.6,377.9L246.8,378.8L247.0,379.6L247.2,380.5L247.4,381.4L247.5,382.2L247.7,383.1L247.9,383.9L248.1,384.8L248.2,385.7L248.4,386.5L248.6,387.4L248.7,388.2L248.9,389.1L249.0,390.0L249.2,390.8L249.3,391.7L249.4,392.6L249.6,393.4L249.7,394.3L249.8,395.2L250.0,396.0L250.1,396.9L250.2,397.8L250.3,398.6L250.5,399.5L250.6,400.4L250.7,401.2L250.8,402.1L250.9,403.0L251.0,403.8L251.1,404.7L251.3,405.6L251.4,406.4L251.5,407.3L251.6,408.2L251.7,409.1L251.8,409.9L251.9,410.8L252.0,411.7L252.1,412.5L252.2,413.4L252.3,414.3L252.4,415.1L252.5,416.0L252.6,416.9L252.7,417.7L252.8,418.6L252.9,419.5L253.0,420.3L253.1,421.2L253.2,422.1L253.3,423.0L253.4,423.8L253.5,424.7L253.6,425.6L253.7,426.4L253.9,427.3L254.0,428.2L254.1,429.0L254.2,429.9L254.3,430.8L254.4,431.6L254.5,432.5L254.6,433.4L254.7,434.2L254.8,435.1L254.9,436.0L255.0,436.8L255.1,437.7L255.3,438.6L255.4,439.4L255.5,440.3L255.6,441.2L255.7,442.0L255.8,442.9L255.9,443.8L256.0,444.6L256.1,445.5L256.3,446.3L256.4,447.2L256.5,448.1L256.6,448.9L256.7,449.8L256.8,450.7L256.9,451.5L257.1,452.4L257.2,453.3L257.3,454.1L257.4,455.0L257.5,455.9L257.6,456.7L257.7,457.6L257.9,458.4L258.0,459.3L258.1,460.2L258.2,461.0L258.3,461.9L258.5,462.8L258.6,463.6L258.7,464.5L258.8,465.4L258.9,466.2L259.0,467.1L259.2,467.9L259.3,468.8L259.4,469.7L259.5,470.5L259.6,471.4L259.8,472.3L259.9,473.1L260.0,474.0L260.1,474.8L260.3,475.7L260.4,476.6L260.5,477.4L260.6,478.3L260.7,479.1L260.9,480.0L261.0,480.9L261.1,481.7L261.2,482.6L261.4,483.5L261.5,484.3L261.6,485.2L261.7,486.0L261.9,486.9L262.0,487.8L262.1,488.6L262.2,489.5L262.4,490.3L262.5,491.2L262.6,492.1L262.7,492.9L262.9,493.8L263.0,494.6L263.1,495.5L263.3,496.4L263.4,497.2L263.5,498.1L263.6,498.9L263.8,499.8L263.9,500.6L264.0,501.5L264.2,502.4L264.3,503.2L264.4,504.1L264.6,504.9L264.7,505.8L264.8,506.7L265.0,507.5L265.1,508.4L265.2,509.2L265.3,510.1L265.5,510.9L265.6,511.8L265.7,512.7L265.9,513.5L266.0,514.4L266.1,515.2L266.3,516.1L266.4,516.9L266.6,517.8L266.7,518.7L266.8,519.5L267.0,520.4L267.1,521.2L267.2,522.1L267.4,522.9L267.5,523.8L267.6,524.6L267.8,525.5L267.9,526.4L268.1,527.2L268.2,528.1L268.3,528.9L268.5,529.8L268.6,530.6L268.7,531.5L268.9,532.3L269.0,533.2L269.2,534.1L269.3,534.9L269.5,535.8L269.6,536.6L269.8,537.5L269.9,538.3L270.1,539.2L270.2,540.0L270.4,540.9L270.5,541.7L270.7,542.6L270.9,543.4L271.1,544.3L271.2,545.2L271.4,546.0L271.6,546.9L271.8,547.7L272.0,548.6L272.2,549.4L272.4,550.3L272.6,551.1L272.8,552.0L273.0,552.8L273.3,553.7L273.5,554.5L273.7,555.4L274.0,556.2L274.2,557.1L274.5,557.9L274.8,558.8L275.0,559.6L275.3,560.5L275.6,561.3L275.9,562.2L276.2,563.1L276.5,563.9L276.9,564.8L277.2,565.6L277.6,566.5L277.9,567.3L278.3,568.2L278.6,569.0L279.0,569.8L279.5,570.6L279.9,571.4L280.3,572.1L280.8,572.8L281.3,573.5L281.8,574.2L282.4,574.8L283.0,575.3L283.6,575.8L284.3,576.3L285.0,576.7L285.7,577.0L286.4,577.2L287.3,577.4L288.1,577.5L289.0,577.5L290.0,577.5L291.0,577.3L292.0,577.1L292.0,577.1" fill="none" stroke="#22d660" stroke-width="1.05"/>
<path d="M101.85,572.72L102.5,572.6L103.1,572.4L103.8,572.3L104.4,572.1L105.1,572.0L105.7,571.8L106.4,571.6L107.1,571.4L107.7,571.3L108.4,571.1L109.1,570.9L109.7,570.7L110.4,570.5L111.1,570.3L111.8,570.1L112.4,569.8L113.1,569.6L113.8,569.4L114.5,569.1L115.2,568.9L115.9,568.6L116.6,568.4L117.3,568.1L118.0,567.9L118.6,567.6L119.3,567.3L120.0,567.0L120.7,566.8L121.4,566.5L122.1,566.2L122.8,565.9L123.5,565.6L124.2,565.2L124.9,564.9L125.5,564.6L126.2,564.3L126.9,563.9L127.6,563.6L128.3,563.3L128.9,562.9L129.6,562.5L130.3,562.2L131.0,561.8L131.6,561.4L132.3,561.1L132.9,560.7L133.6,560.3L134.2,559.9L134.9,559.5L135.5,559.1L136.2,558.7L136.8,558.3L137.4,557.9L138.1,557.5L138.7,557.0L139.3,556.6L139.9,556.1L140.5,555.7L141.1,555.3L141.7,554.8L142.3,554.3L142.9,553.9L143.5,553.4L144.0,552.9L144.6,552.5L145.1,552.0L145.7,551.5L146.2,551.0L146.8,550.5L147.3,550.0L147.8,549.5L148.3,548.9L148.8,548.4L149.3,547.9L149.8,547.4L150.3,546.8L150.8,546.3L151.3,545.8L151.7,545.2L152.2,544.7L152.7,544.1L153.1,543.5L153.6,543.0L154.0,542.4L154.4,541.8L154.9,541.3L155.3,540.7L155.7,540.1L156.1,539.5L156.5,538.9L156.9,538.3L157.3,537.7L157.7,537.1L158.1,536.5L158.5,535.9L158.8,535.3L159.2,534.7L159.6,534.1L159.9,533.4L160.3,532.8L160.6,532.2L161.0,531.6L161.3,530.9L161.7,530.3L162.0,529.6L162.3,529.0L162.7,528.4L163.0,527.7L163.3,527.1L163.6,526.4L163.9,525.8L164.3,525.1L164.6,524.4L164.9,523.8L165.2,523.1L165.4,522.5L165.7,521.8L166.0,521.1L166.3,520.5L166.6,519.8L166.9,519.1L167.2,518.4L167.4,517.8L167.7,517.1L168.0,516.4L168.2,515.7L168.5,515.1L168.8,514.4L169.0,513.7L169.3,513.0L169.5,512.3L169.8,511.6L170.0,510.9L170.3,510.3L170.5,509.6L170.8,508.9L171.0,508.2L171.3,507.5L171.5,506.8L171.7,506.1L172.0,505.4L172.2,504.7L172.5,504.0L172.7,503.3L172.9,502.7L173.2,502.0L173.4,501.3L173.6,500.6L173.8,499.9L174.1,499.2L174.3,498.5L174.5,497.8L174.7,497.1L175.0,496.4L175.2,495.7L175.4,495.0L175.6,494.3L175.8,493.6L176.1,492.9L176.3,492.2L176.5,491.5L176.7,490.8L176.9,490.1L177.1,489.4L177.3,488.7L177.5,488.0L177.7,487.3L178.0,486.6L178.2,485.9L178.4,485.2L178.6,484.5L178.8,483.8L179.0,483.1L179.2,482.4L179.4,481.7L179.6,481.0L179.8,480.3L180.0,479.6L180.2,478.9L180.4,478.2L180.6,477.4L180.7,476.7L180.9,476.0L181.1,475.3L181.3,474.6L181.5,473.9L181.7,473.2L181.9,472.5L182.1,471.8L182.3,471.1L182.5,470.4L182.6,469.7L182.8,469.0L183.0,468.2L183.2,467.5L183.4,466.8L183.6,466.1L183.8,465.4L183.9,464.7L184.1,464.0L184.3,463.3L184.5,462.6L184.7,461.8L184.9,461.1L185.0,460.4L185.2,459.7L185.4,459.0L185.6,458.3L185.8,457.6L185.9,456.9L186.1,456.1L186.3,455.4L186.5,454.7L186.6,454.0L186.8,453.3L187.0,452.6L187.2,451.8L187.4,451.1L187.5,450.4L187.7,449.7L187.9,449.0L188.1,448.3L188.2,447.6L188.4,446.8L188.6,446.1L188.8,445.4L188.9,444.7L189.1,444.0L189.3,443.2L189.5,442.5L189.6,441.8L189.8,441.1L190.0,440.4L190.2,439.7L190.3,438.9L190.5,438.2L190.7,437.5L190.9,436.8L191.0,436.1L191.2,435.3L191.4,434.6L191.6,433.9L191.7,433.2L191.9,432.5L192.1,431.7L192.3,431.0L192.4,430.3L192.6,429.6L192.8,428.9L193.0,428.1L193.2,427.4L193.3,426.7L193.5,426.0L193.7,425.3L193.9,424.5L194.1,423.8L194.2,423.1L194.4,422.4L194.6,421.7L194.8,420.9L195.0,420.2L195.1,419.5L195.3,418.8L195.5,418.0L195.7,417.3L195.9,416.6L196.1,415.9L196.2,415.2L196.4,414.4L196.6,413.7L196.8,413.0L197.0,412.3L197.2,411.5L197.4,410.8L197.6,410.1L197.7,409.4L197.9,408.6L198.1,407.9L198.3,407.2L198.5,406.5L198.7,405.8L198.9,405.0L199.1,404.3L199.3,403.6L199.5,402.9L199.7,402.1L199.9,401.4L200.1,400.7L200.3,400.0L200.5,399.3L200.7,398.5L200.9,397.8L201.1,397.1L201.4,396.4L201.6,395.7L201.9,395.0L202.1,394.3L202.4,393.6L202.7,392.9L203.0,392.2L203.3,391.5L203.6,390.9L204.0,390.2L204.3,389.6L204.7,388.9L205.1,388.3L205.5,387.7L206.0,387.1L206.4,386.5L206.9,386.1L207.4,385.7L207.9,385.4L208.4,385.2L209.4,385.3L209.9,385.5L210.3,385.8L210.8,386.2L211.3,386.6L211.7,387.0L212.2,387.5L212.6,388.0L213.0,388.5L213.4,389.0L213.7,389.6L214.1,390.1L214.4,390.7L214.7,391.3L215.0,391.9L215.3,392.5L215.5,393.2L215.8,393.8L216.0,394.5L216.3,395.2L216.5,395.8L216.7,396.5L216.9,397.3L217.1,398.0L217.3,398.7L217.5,399.4L217.6,400.2L217.8,400.9L217.9,401.7L218.1,402.4L218.2,403.2L218.4,403.9L218.5,404.7L218.6,405.5L218.8,406.3L218.9,407.0L219.0,407.8L219.2,408.6L219.3,409.4L219.4,410.1L219.5,410.9L219.7,411.7L219.8,412.4L219.9,413.2L220.0,413.9L220.2,414.7L220.3,415.5L220.4,416.2L220.6,417.0L220.7,417.7L220.8,418.5L220.9,419.2L221.1,420.0L221.2,420.7L221.3,421.4L221.5,422.2L221.6,422.9L221.7,423.7L221.9,424.4L222.0,425.1L222.1,425.9L222.3,426.6L222.4,427.3L222.5,428.1L222.6,428.8L222.8,429.5L222.9,430.3L223.0,431.0L223.2,431.7L223.3,432.4L223.4,433.2L223.6,433.9L223.7,434.6L223.8,435.3L224.0,436.0L224.1,436.8L224.2,437.5L224.4,438.2L224.5,438.9L224.6,439.6L224.8,440.3L224.9,441.1L225.0,441.8L225.2,442.5L225.3,443.2L225.4,443.9L225.6,444.6L225.7,445.3L225.8,446.0L225.9,446.7L226.1,447.5L226.2,448.2L226.3,448.9L226.5,449.6L226.6,450.3L226.7,451.0L226.8,451.7L227.0,452.4L227.1,453.1L227.2,453.8L227.4,454.5L227.5,455.2L227.6,455.9L227.7,456.7L227.9,457.4L228.0,458.1L228.1,458.8L228.2,459.5L228.4,460.2L228.5,460.9L228.6,461.6L228.7,462.3L228.8,463.0L229.0,463.7L229.1,464.4L229.2,465.1L229.3,465.9L229.5,466.6L229.6,467.3L229.7,468.0L229.8,468.7L229.9,469.4L230.0,470.1L230.2,470.8L230.3,471.5L230.4,472.3L230.5,473.0L230.6,473.7L230.7,474.4L230.8,475.1L230.9,475.8L231.0,476.6L231.2,477.3L231.3,478.0L231.4,478.7L231.5,479.4L231.6,480.2L231.7,480.9L231.8,481.6L231.9,482.3L232.0,483.1L232.1,483.8L232.2,484.5L232.3,485.2L232.4,486.0L232.5,486.7L232.6,487.4L232.8,488.2L232.9,488.9L233.0,489.6L233.1,490.3L233.2,491.1L233.3,491.8L233.4,492.5L233.5,493.3L233.6,494.0L233.7,494.7L233.8,495.5L233.9,496.2L234.0,496.9L234.1,497.6L234.3,498.4L234.4,499.1L234.5,499.8L234.6,500.6L234.7,501.3L234.8,502.0L234.9,502.8L235.0,503.5L235.2,504.2L235.3,505.0L235.4,505.7L235.5,506.4L235.6,507.2L235.7,507.9L235.9,508.6L236.0,509.4L236.1,510.1L236.2,510.8L236.4,511.6L236.5,512.3L236.6,513.0L236.8,513.8L236.9,514.5L237.0,515.2L237.2,515.9L237.3,516.7L237.4,517.4L237.6,518.1L237.7,518.9L237.9,519.6L238.0,520.3L238.1,521.0L238.3,521.8L238.4,522.5L238.6,523.2L238.8,523.9L238.9,524.7L239.1,525.4L239.2,526.1L239.4,526.8L239.6,527.6L239.7,528.3L239.9,529.0L240.1,529.7L240.2,530.4L240.4,531.2L240.6,531.9L240.8,532.6L241.0,533.3L241.1,534.0L241.3,534.7L241.5,535.5L241.7,536.2L241.9,536.9L242.1,537.6L242.3,538.3L242.5,539.0L242.7,539.7L242.9,540.4L243.1,541.1L243.4,541.8L243.6,542.5L243.8,543.2L244.0,543.9L244.3,544.7L244.5,545.4L244.7,546.0L245.0,546.7L245.2,547.4L245.4,548.1L245.7,548.8L245.9,549.5L246.2,550.2L246.4,550.9L246.7,551.6L247.0,552.3L247.2,553.0L247.5,553.7L247.8,554.3L248.1,555.0L248.3,555.7L248.6,556.4L248.9,557.1L249.2,557.7L249.5,558.4L249.8,559.0L250.2,559.7L250.5,560.4L250.8,561.0L251.2,561.6L251.5,562.3L251.9,562.9L252.2,563.5L252.6,564.1L253.0,564.7L253.4,565.3L253.8,565.9L254.2,566.5L254.6,567.1L255.1,567.6L255.5,568.2L256.0,568.7L256.5,569.2L257.0,569.7L257.5,570.2L258.0,570.7L258.5,571.2L259.1,571.6L259.6,572.1L260.2,572.5L260.8,572.9L261.4,573.3L262.1,573.7L262.7,574.1L263.4,574.4L264.0,574.7L264.7,575.1L265.5,575.4L266.2,575.6L266.9,575.9L267.7,576.1L268.5,576.4L269.3,576.6L270.2,576.7L270.2,576.7" fill="none" stroke="#333" stroke-width="1.05"/>
<path d="M101.72,573.15L102.3,573.0L103.0,572.9L103.6,572.8L104.2,572.6L104.9,572.5L105.5,572.3L106.2,572.2L106.8,572.0L107.4,571.9L108.1,571.7L108.7,571.6L109.4,571.4L110.0,571.2L110.7,571.1L111.3,570.9L112.0,570.7L112.7,570.5L113.3,570.4L114.0,570.2L114.6,570.0L115.3,569.8L116.0,569.6L116.6,569.4L117.3,569.2L117.9,569.0L118.6,568.8L119.3,568.6L119.9,568.4L120.6,568.1L121.2,567.9L121.9,567.7L122.5,567.4L123.2,567.2L123.9,567.0L124.5,566.7L125.2,566.5L125.8,566.2L126.5,566.0L127.1,565.7L127.7,565.4L128.4,565.2L129.0,564.9L129.7,564.6L130.3,564.3L130.9,564.0L131.6,563.7L132.2,563.4L132.8,563.1L133.5,562.8L134.1,562.5L134.7,562.2L135.3,561.9L135.9,561.5L136.5,561.2L137.1,560.9L137.7,560.5L138.3,560.2L138.9,559.8L139.5,559.5L140.1,559.1L140.7,558.7L141.2,558.3L141.8,558.0L142.4,557.6L142.9,557.2L143.5,556.8L144.0,556.4L144.6,556.0L145.1,555.6L145.7,555.1L146.2,554.7L146.7,554.3L147.2,553.8L147.7,553.4L148.2,552.9L148.7,552.5L149.2,552.0L149.7,551.6L150.2,551.1L150.7,550.6L151.2,550.1L151.6,549.7L152.1,549.2L152.6,548.7L153.0,548.2L153.5,547.7L153.9,547.2L154.4,546.6L154.8,546.1L155.2,545.6L155.7,545.1L156.1,544.6L156.5,544.0L156.9,543.5L157.4,542.9L157.8,542.4L158.2,541.8L158.6,541.3L159.0,540.7L159.4,540.2L159.7,539.6L160.1,539.0L160.5,538.5L160.9,537.9L161.2,537.3L161.6,536.7L162.0,536.2L162.3,535.6L162.7,535.0L163.1,534.4L163.4,533.8L163.8,533.2L164.1,532.6L164.4,532.0L164.8,531.4L165.1,530.8L165.4,530.2L165.8,529.6L166.1,528.9L166.4,528.3L166.7,527.7L167.0,527.1L167.3,526.5L167.7,525.8L168.0,525.2L168.3,524.6L168.6,524.0L168.9,523.3L169.2,522.7L169.4,522.1L169.7,521.4L170.0,520.8L170.3,520.2L170.6,519.5L170.9,518.9L171.1,518.3L171.4,517.6L171.7,517.0L172.0,516.3L172.2,515.7L172.5,515.1L172.8,514.4L173.0,513.8L173.3,513.1L173.5,512.5L173.8,511.8L174.0,511.2L174.3,510.6L174.5,509.9L174.8,509.3L175.0,508.6L175.3,508.0L175.5,507.4L175.8,506.7L176.0,506.1L176.3,505.4L176.5,504.8L176.7,504.2L177.0,503.5L177.2,502.9L177.4,502.2L177.7,501.6L177.9,501.0L178.1,500.3L178.4,499.7L178.6,499.1L178.8,498.4L179.0,497.8L179.2,497.2L179.5,496.5L179.7,495.9L179.9,495.3L180.1,494.6L180.3,494.0L180.6,493.4L180.8,492.8L181.0,492.1L181.2,491.5L181.4,490.9L181.6,490.2L181.8,489.6L182.0,489.0L182.2,488.3L182.4,487.7L182.7,487.1L182.9,486.4L183.1,485.8L183.3,485.2L183.5,484.6L183.7,483.9L183.9,483.3L184.1,482.7L184.3,482.0L184.5,481.4L184.7,480.8L184.8,480.1L185.0,479.5L185.2,478.9L185.4,478.2L185.6,477.6L185.8,477.0L186.0,476.3L186.2,475.7L186.4,475.1L186.6,474.4L186.8,473.8L186.9,473.2L187.1,472.5L187.3,471.9L187.5,471.3L187.7,470.6L187.9,470.0L188.1,469.3L188.2,468.7L188.4,468.1L188.6,467.4L188.8,466.8L189.0,466.1L189.2,465.5L189.3,464.8L189.5,464.2L189.7,463.5L189.9,462.9L190.1,462.2L190.2,461.6L190.4,460.9L190.6,460.3L190.8,459.6L190.9,459.0L191.1,458.3L191.3,457.7L191.5,457.0L191.6,456.4L191.8,455.7L192.0,455.0L192.2,454.4L192.4,453.7L192.5,453.1L192.7,452.4L192.9,451.7L193.1,451.1L193.2,450.4L193.4,449.7L193.6,449.0L193.8,448.4L193.9,447.7L194.1,447.0L194.3,446.3L194.5,445.7L194.6,445.0L194.8,444.3L195.0,443.6L195.2,442.9L195.3,442.2L195.5,441.6L195.7,440.9L195.9,440.2L196.0,439.5L196.2,438.8L196.4,438.1L196.6,437.4L196.7,436.7L196.9,436.0L197.1,435.3L197.3,434.6L197.4,433.9L197.6,433.2L197.8,432.5L198.0,431.7L198.2,431.0L198.3,430.3L198.5,429.6L198.7,428.9L198.9,428.1L199.1,427.4L199.2,426.7L199.4,426.0L199.6,425.2L199.8,424.5L200.0,423.8L200.2,423.0L200.3,422.3L200.5,421.5L200.7,420.8L200.9,420.1L201.1,419.3L201.3,418.6L201.5,417.8L201.7,417.1L201.9,416.4L202.1,415.7L202.3,415.0L202.5,414.3L202.7,413.6L203.0,412.9L203.2,412.2L203.5,411.6L203.7,410.9L204.0,410.3L204.2,409.7L204.5,409.1L204.8,408.5L205.1,408.0L205.4,407.5L205.7,407.0L206.0,406.5L206.4,406.0L206.7,405.6L207.1,405.2L207.5,404.8L207.9,404.4L208.3,404.1L208.7,403.8L209.1,403.5L209.5,403.3L210.5,402.9L211.4,402.8L212.4,402.9L213.3,403.2L213.8,403.4L214.2,403.7L214.7,404.1L215.2,404.4L215.6,404.8L216.0,405.3L216.5,405.7L216.9,406.3L217.3,406.8L217.6,407.4L218.0,407.9L218.3,408.5L218.7,409.2L219.0,409.8L219.3,410.4L219.5,411.1L219.8,411.8L220.0,412.4L220.2,413.1L220.4,413.8L220.6,414.5L220.8,415.2L221.0,415.9L221.1,416.6L221.3,417.3L221.4,418.1L221.6,418.8L221.7,419.5L221.8,420.2L222.0,420.9L222.1,421.6L222.2,422.3L222.4,423.0L222.5,423.7L222.7,424.4L222.8,425.1L222.9,425.8L223.0,426.5L223.2,427.2L223.3,427.9L223.4,428.6L223.6,429.3L223.7,430.0L223.8,430.7L223.9,431.4L224.1,432.1L224.2,432.8L224.3,433.5L224.4,434.2L224.6,434.8L224.7,435.5L224.8,436.2L224.9,436.9L225.0,437.6L225.2,438.3L225.3,438.9L225.4,439.6L225.5,440.3L225.6,441.0L225.8,441.7L225.9,442.3L226.0,443.0L226.1,443.7L226.2,444.4L226.3,445.0L226.4,445.7L226.6,446.4L226.7,447.0L226.8,447.7L226.9,448.4L227.0,449.1L227.1,449.7L227.2,450.4L227.3,451.1L227.5,451.7L227.6,452.4L227.7,453.1L227.8,453.7L227.9,454.4L228.0,455.1L228.1,455.7L228.2,456.4L228.3,457.1L228.4,457.7L228.5,458.4L228.6,459.1L228.7,459.7L228.8,460.4L229.0,461.1L229.1,461.7L229.2,462.4L229.3,463.1L229.4,463.7L229.5,464.4L229.6,465.1L229.7,465.7L229.8,466.4L229.9,467.1L230.0,467.7L230.1,468.4L230.2,469.1L230.3,469.7L230.4,470.4L230.5,471.1L230.6,471.7L230.7,472.4L230.8,473.1L230.9,473.7L231.0,474.4L231.1,475.1L231.2,475.8L231.3,476.4L231.4,477.1L231.5,477.8L231.6,478.4L231.7,479.1L231.8,479.8L231.9,480.5L232.0,481.1L232.1,481.8L232.2,482.5L232.3,483.2L232.5,483.8L232.6,484.5L232.7,485.2L232.8,485.9L232.9,486.5L233.0,487.2L233.1,487.9L233.2,488.6L233.3,489.2L233.4,489.9L233.5,490.6L233.6,491.3L233.7,491.9L233.8,492.6L233.9,493.3L234.1,494.0L234.2,494.6L234.3,495.3L234.4,496.0L234.5,496.7L234.6,497.4L234.7,498.0L234.8,498.7L235.0,499.4L235.1,500.1L235.2,500.7L235.3,501.4L235.4,502.1L235.6,502.8L235.7,503.4L235.8,504.1L235.9,504.8L236.0,505.5L236.2,506.2L236.3,506.8L236.4,507.5L236.6,508.2L236.7,508.9L236.8,509.5L237.0,510.2L237.1,510.9L237.2,511.6L237.4,512.2L237.5,512.9L237.6,513.6L237.8,514.3L237.9,514.9L238.1,515.6L238.2,516.3L238.3,517.0L238.5,517.6L238.6,518.3L238.8,519.0L238.9,519.6L239.1,520.3L239.2,521.0L239.4,521.7L239.6,522.3L239.7,523.0L239.9,523.7L240.0,524.3L240.2,525.0L240.4,525.7L240.5,526.3L240.7,527.0L240.9,527.7L241.1,528.3L241.2,529.0L241.4,529.7L241.6,530.3L241.8,531.0L241.9,531.7L242.1,532.3L242.3,533.0L242.5,533.7L242.7,534.3L242.9,535.0L243.1,535.6L243.3,536.3L243.5,537.0L243.7,537.6L243.9,538.3L244.1,538.9L244.3,539.6L244.5,540.2L244.7,540.9L244.9,541.5L245.2,542.2L245.4,542.9L245.6,543.5L245.8,544.2L246.0,544.8L246.3,545.5L246.5,546.1L246.7,546.8L247.0,547.4L247.2,548.0L247.5,548.7L247.7,549.3L247.9,550.0L248.2,550.6L248.4,551.3L248.7,551.9L249.0,552.5L249.2,553.2L249.5,553.8L249.7,554.5L250.0,555.1L250.3,555.7L250.6,556.4L250.8,557.0L251.1,557.6L251.4,558.2L251.7,558.9L252.0,559.5L252.3,560.1L252.6,560.7L252.9,561.3L253.3,561.9L253.6,562.5L253.9,563.1L254.3,563.7L254.6,564.2L255.0,564.8L255.4,565.4L255.7,565.9L256.1,566.5L256.5,567.0L256.9,567.5L257.3,568.0L257.8,568.5L258.2,569.0L258.6,569.5L259.1,570.0L259.6,570.5L260.1,570.9L260.5,571.4L261.1,571.8L261.6,572.2L262.1,572.6L262.6,573.0L263.2,573.4L263.8,573.8L264.4,574.1L265.0,574.5L265.6,574.8L266.2,575.1L266.9,575.4L267.5,575.7L268.2,575.9L268.9,576.2L269.6,576.4L270.3,576.6L271.1,576.8L271.1,576.8" fill="none" stroke="#2a3fe0" stroke-width="1.05"/>
<path d="M101.04,573.19L101.8,573.2L102.6,573.1L103.4,573.1L104.2,573.0L104.9,573.0L105.7,572.9L106.5,572.8L107.2,572.7L108.0,572.7L108.7,572.6L109.5,572.5L110.2,572.4L111.0,572.2L111.7,572.1L112.4,572.0L113.2,571.8L113.9,571.7L114.6,571.6L115.3,571.4L116.0,571.2L116.7,571.1L117.4,570.9L118.1,570.7L118.8,570.5L119.5,570.3L120.2,570.1L120.9,569.9L121.6,569.7L122.2,569.5L122.9,569.2L123.6,569.0L124.2,568.8L124.9,568.5L125.6,568.3L126.2,568.0L126.9,567.7L127.5,567.5L128.1,567.2L128.8,566.9L129.4,566.6L130.0,566.3L130.7,566.0L131.3,565.7L131.9,565.4L132.5,565.1L133.1,564.8L133.7,564.4L134.3,564.1L134.9,563.8L135.5,563.4L136.1,563.1L136.7,562.7L137.3,562.3L137.9,562.0L138.4,561.6L139.0,561.2L139.6,560.9L140.1,560.5L140.7,560.1L141.2,559.7L141.8,559.3L142.4,558.9L142.9,558.5L143.4,558.0L144.0,557.6L144.5,557.2L145.0,556.8L145.6,556.3L146.1,555.9L146.6,555.5L147.1,555.0L147.7,554.6L148.2,554.1L148.7,553.6L149.2,553.2L149.7,552.7L150.2,552.2L150.7,551.8L151.2,551.3L151.6,550.8L152.1,550.3L152.6,549.8L153.1,549.3L153.6,548.8L154.0,548.3L154.5,547.8L155.0,547.3L155.4,546.8L155.9,546.3L156.3,545.7L156.8,545.2L157.2,544.7L157.7,544.1L158.1,543.6L158.6,543.1L159.0,542.5L159.4,542.0L159.8,541.4L160.3,540.9L160.7,540.3L161.1,539.7L161.5,539.2L161.9,538.6L162.3,538.0L162.7,537.5L163.1,536.9L163.5,536.3L163.9,535.7L164.3,535.2L164.7,534.6L165.1,534.0L165.5,533.4L165.9,532.8L166.3,532.2L166.6,531.6L167.0,531.0L167.4,530.4L167.7,529.8L168.1,529.2L168.5,528.6L168.8,528.0L169.2,527.3L169.5,526.7L169.9,526.1L170.2,525.5L170.5,524.9L170.9,524.2L171.2,523.6L171.6,523.0L171.9,522.4L172.2,521.7L172.5,521.1L172.9,520.4L173.2,519.8L173.5,519.2L173.8,518.5L174.1,517.9L174.4,517.2L174.7,516.6L175.0,516.0L175.3,515.3L175.6,514.7L175.9,514.0L176.2,513.4L176.5,512.7L176.8,512.0L177.1,511.4L177.4,510.7L177.6,510.1L177.9,509.4L178.2,508.8L178.4,508.1L178.7,507.4L179.0,506.8L179.2,506.1L179.5,505.5L179.8,504.8L180.0,504.1L180.3,503.5L180.5,502.8L180.8,502.1L181.0,501.5L181.2,500.8L181.5,500.1L181.7,499.5L182.0,498.8L182.2,498.1L182.4,497.5L182.6,496.8L182.9,496.1L183.1,495.4L183.3,494.8L183.5,494.1L183.8,493.4L184.0,492.8L184.2,492.1L184.4,491.4L184.6,490.7L184.8,490.1L185.0,489.4L185.3,488.7L185.5,488.0L185.7,487.4L185.9,486.7L186.1,486.0L186.3,485.3L186.5,484.6L186.7,484.0L186.9,483.3L187.1,482.6L187.2,481.9L187.4,481.3L187.6,480.6L187.8,479.9L188.0,479.2L188.2,478.5L188.4,477.9L188.6,477.2L188.8,476.5L188.9,475.8L189.1,475.1L189.3,474.5L189.5,473.8L189.7,473.1L189.9,472.4L190.0,471.7L190.2,471.1L190.4,470.4L190.6,469.7L190.7,469.0L190.9,468.3L191.1,467.7L191.3,467.0L191.5,466.3L191.6,465.6L191.8,464.9L192.0,464.3L192.2,463.6L192.3,462.9L192.5,462.2L192.7,461.5L192.9,460.9L193.0,460.2L193.2,459.5L193.4,458.8L193.6,458.1L193.7,457.5L193.9,456.8L194.1,456.1L194.3,455.4L194.4,454.8L194.6,454.1L194.8,453.4L195.0,452.7L195.1,452.1L195.3,451.4L195.5,450.7L195.7,450.0L195.9,449.4L196.0,448.7L196.2,448.0L196.4,447.3L196.6,446.7L196.8,446.0L197.0,445.3L197.2,444.7L197.3,444.0L197.5,443.3L197.7,442.7L197.9,442.0L198.1,441.3L198.3,440.7L198.5,440.0L198.7,439.3L198.9,438.7L199.1,438.0L199.3,437.3L199.5,436.7L199.7,436.0L199.9,435.3L200.1,434.7L200.3,434.0L200.5,433.4L200.7,432.7L200.9,432.0L201.1,431.4L201.4,430.7L201.6,430.0L201.8,429.4L202.0,428.7L202.2,428.0L202.5,427.4L202.7,426.7L202.9,426.0L203.2,425.3L203.4,424.6L203.6,423.9L203.9,423.2L204.1,422.5L204.4,421.8L204.6,421.1L204.9,420.4L205.1,419.7L205.4,418.9L205.6,418.2L205.9,417.5L206.2,416.7L206.4,416.0L206.7,415.2L207.0,414.4L207.3,413.6L207.6,412.9L207.9,412.1L208.1,411.3L208.4,410.5L208.7,409.7L209.0,408.9L209.3,408.1L209.7,407.4L210.0,406.6L210.3,405.9L210.6,405.2L210.9,404.4L211.2,403.8L211.6,403.1L211.9,402.4L212.2,401.8L212.6,401.2L212.9,400.7L213.2,400.2L213.6,399.7L213.9,399.2L214.3,398.8L214.6,398.4L215.3,397.8L216.0,397.3L216.7,397.1L217.5,397.1L218.2,397.2L218.9,397.6L219.6,398.1L220.3,398.9L220.6,399.3L221.0,399.7L221.3,400.2L221.6,400.7L221.9,401.3L222.2,401.8L222.6,402.4L222.9,403.1L223.2,403.7L223.5,404.4L223.7,405.0L224.0,405.7L224.3,406.5L224.6,407.2L224.8,407.9L225.1,408.6L225.3,409.4L225.5,410.1L225.8,410.9L226.0,411.6L226.2,412.3L226.4,413.1L226.6,413.8L226.7,414.6L226.9,415.3L227.1,416.0L227.2,416.7L227.4,417.5L227.5,418.2L227.7,418.9L227.8,419.6L227.9,420.4L228.1,421.1L228.2,421.8L228.3,422.5L228.4,423.2L228.5,424.0L228.7,424.7L228.8,425.4L228.9,426.1L229.0,426.8L229.1,427.5L229.2,428.2L229.3,428.9L229.5,429.6L229.6,430.3L229.7,431.1L229.8,431.8L229.9,432.5L230.0,433.2L230.1,433.9L230.2,434.6L230.4,435.3L230.5,436.0L230.6,436.7L230.7,437.4L230.8,438.1L230.9,438.8L231.0,439.5L231.1,440.2L231.3,440.9L231.4,441.6L231.5,442.3L231.6,442.9L231.7,443.6L231.8,444.3L231.9,445.0L232.1,445.7L232.2,446.4L232.3,447.1L232.4,447.8L232.5,448.5L232.6,449.2L232.7,449.9L232.8,450.6L233.0,451.2L233.1,451.9L233.2,452.6L233.3,453.3L233.4,454.0L233.5,454.7L233.6,455.4L233.8,456.1L233.9,456.8L234.0,457.4L234.1,458.1L234.2,458.8L234.3,459.5L234.4,460.2L234.5,460.9L234.7,461.6L234.8,462.3L234.9,462.9L235.0,463.6L235.1,464.3L235.2,465.0L235.3,465.7L235.5,466.4L235.6,467.1L235.7,467.7L235.8,468.4L235.9,469.1L236.0,469.8L236.1,470.5L236.2,471.2L236.4,471.9L236.5,472.6L236.6,473.2L236.7,473.9L236.8,474.6L236.9,475.3L237.0,476.0L237.1,476.7L237.3,477.4L237.4,478.1L237.5,478.8L237.6,479.4L237.7,480.1L237.8,480.8L237.9,481.5L238.0,482.2L238.2,482.9L238.3,483.6L238.4,484.3L238.5,485.0L238.6,485.7L238.7,486.4L238.8,487.0L239.0,487.7L239.1,488.4L239.2,489.1L239.3,489.8L239.4,490.5L239.5,491.2L239.7,491.9L239.8,492.6L239.9,493.3L240.0,494.0L240.1,494.7L240.3,495.4L240.4,496.1L240.5,496.7L240.6,497.4L240.7,498.1L240.9,498.8L241.0,499.5L241.1,500.2L241.2,500.9L241.4,501.6L241.5,502.3L241.6,503.0L241.7,503.7L241.9,504.4L242.0,505.1L242.1,505.8L242.2,506.4L242.4,507.1L242.5,507.8L242.6,508.5L242.8,509.2L242.9,509.9L243.0,510.6L243.2,511.3L243.3,512.0L243.5,512.7L243.6,513.4L243.7,514.1L243.9,514.8L244.0,515.4L244.2,516.1L244.3,516.8L244.4,517.5L244.6,518.2L244.7,518.9L244.9,519.6L245.0,520.3L245.2,521.0L245.3,521.7L245.5,522.4L245.6,523.0L245.8,523.7L246.0,524.4L246.1,525.1L246.3,525.8L246.4,526.5L246.6,527.2L246.8,527.9L246.9,528.6L247.1,529.2L247.3,529.9L247.4,530.6L247.6,531.3L247.8,532.0L247.9,532.7L248.1,533.4L248.3,534.1L248.5,534.7L248.6,535.4L248.8,536.1L249.0,536.8L249.2,537.5L249.4,538.2L249.6,538.8L249.8,539.5L249.9,540.2L250.1,540.9L250.3,541.6L250.5,542.3L250.7,542.9L250.9,543.6L251.1,544.3L251.3,545.0L251.5,545.7L251.7,546.3L251.9,547.0L252.2,547.7L252.4,548.4L252.6,549.1L252.8,549.7L253.0,550.4L253.2,551.1L253.5,551.8L253.7,552.4L253.9,553.1L254.1,553.8L254.4,554.5L254.6,555.1L254.8,555.8L255.1,556.5L255.3,557.2L255.6,557.8L255.8,558.5L256.1,559.1L256.3,559.8L256.6,560.4L256.9,561.1L257.2,561.7L257.4,562.4L257.7,563.0L258.0,563.6L258.4,564.2L258.7,564.8L259.0,565.4L259.4,566.0L259.7,566.6L260.1,567.2L260.5,567.8L260.8,568.3L261.2,568.9L261.7,569.4L262.1,569.9L262.5,570.4L263.0,570.9L263.4,571.4L263.9,571.9L264.4,572.3L264.9,572.8L265.5,573.2L266.0,573.6L266.6,574.0L267.1,574.4L267.7,574.8L268.4,575.1L269.0,575.5L269.6,575.8L270.3,576.1L271.0,576.4L271.7,576.7L272.5,576.9L272.5,576.9" fill="none" stroke="#a040c8" stroke-width="1.05"/>
<path d="M101.65,573.98L102.4,573.9L103.1,573.8L103.8,573.7L104.5,573.6L105.2,573.5L105.9,573.4L106.7,573.3L107.4,573.2L108.1,573.1L108.9,573.0L109.6,572.9L110.3,572.8L111.1,572.7L111.8,572.6L112.6,572.5L113.3,572.4L114.0,572.3L114.8,572.1L115.5,572.0L116.3,571.9L117.0,571.8L117.8,571.6L118.6,571.5L119.3,571.4L120.1,571.2L120.8,571.1L121.6,570.9L122.3,570.7L123.1,570.6L123.8,570.4L124.6,570.3L125.3,570.1L126.0,569.9L126.8,569.7L127.5,569.5L128.3,569.3L129.0,569.1L129.7,568.9L130.5,568.7L131.2,568.5L131.9,568.3L132.7,568.0L133.4,567.8L134.1,567.5L134.8,567.3L135.5,567.0L136.2,566.8L136.9,566.5L137.6,566.2L138.3,565.9L139.0,565.6L139.7,565.3L140.4,565.0L141.0,564.7L141.7,564.4L142.4,564.1L143.0,563.7L143.7,563.4L144.3,563.0L145.0,562.6L145.6,562.3L146.2,561.9L146.9,561.5L147.5,561.1L148.1,560.7L148.7,560.2L149.3,559.8L149.9,559.4L150.5,558.9L151.0,558.5L151.6,558.0L152.2,557.6L152.8,557.1L153.3,556.6L153.9,556.1L154.4,555.6L155.0,555.1L155.5,554.6L156.0,554.1L156.5,553.6L157.1,553.1L157.6,552.5L158.1,552.0L158.6,551.4L159.1,550.9L159.6,550.3L160.1,549.8L160.6,549.2L161.0,548.6L161.5,548.0L162.0,547.5L162.5,546.9L162.9,546.3L163.4,545.7L163.8,545.1L164.3,544.5L164.7,543.9L165.2,543.3L165.6,542.6L166.0,542.0L166.5,541.4L166.9,540.8L167.3,540.1L167.7,539.5L168.1,538.8L168.5,538.2L168.9,537.6L169.3,536.9L169.7,536.2L170.1,535.6L170.5,534.9L170.9,534.3L171.3,533.6L171.7,533.0L172.0,532.3L172.4,531.6L172.8,531.0L173.1,530.3L173.5,529.6L173.9,528.9L174.2,528.3L174.6,527.6L174.9,526.9L175.3,526.2L175.6,525.6L175.9,524.9L176.3,524.2L176.6,523.5L177.0,522.8L177.3,522.1L177.6,521.5L177.9,520.8L178.3,520.1L178.6,519.4L178.9,518.7L179.2,518.0L179.5,517.4L179.8,516.7L180.1,516.0L180.4,515.3L180.7,514.6L181.0,513.9L181.3,513.2L181.6,512.5L181.9,511.8L182.2,511.2L182.5,510.5L182.8,509.8L183.1,509.1L183.3,508.4L183.6,507.7L183.9,507.0L184.2,506.3L184.4,505.6L184.7,504.9L185.0,504.2L185.2,503.5L185.5,502.8L185.8,502.1L186.0,501.4L186.3,500.7L186.5,500.0L186.8,499.3L187.0,498.6L187.3,497.9L187.5,497.2L187.8,496.5L188.0,495.8L188.2,495.1L188.5,494.4L188.7,493.7L189.0,492.9L189.2,492.2L189.4,491.5L189.7,490.8L189.9,490.1L190.1,489.4L190.3,488.7L190.6,488.0L190.8,487.3L191.0,486.6L191.2,485.8L191.4,485.1L191.7,484.4L191.9,483.7L192.1,483.0L192.3,482.3L192.5,481.5L192.7,480.8L192.9,480.1L193.1,479.4L193.3,478.7L193.5,478.0L193.7,477.2L193.9,476.5L194.1,475.8L194.3,475.1L194.5,474.3L194.7,473.6L194.9,472.9L195.1,472.2L195.3,471.5L195.5,470.7L195.7,470.0L195.9,469.3L196.1,468.5L196.3,467.8L196.4,467.1L196.6,466.4L196.8,465.6L197.0,464.9L197.2,464.2L197.4,463.4L197.5,462.7L197.7,462.0L197.9,461.3L198.1,460.5L198.3,459.8L198.4,459.1L198.6,458.3L198.8,457.6L199.0,456.9L199.2,456.1L199.3,455.4L199.5,454.6L199.7,453.9L199.8,453.2L200.0,452.4L200.2,451.7L200.4,451.0L200.5,450.2L200.7,449.5L200.9,448.7L201.0,448.0L201.2,447.3L201.4,446.5L201.6,445.8L201.7,445.0L201.9,444.3L202.1,443.6L202.2,442.8L202.4,442.1L202.6,441.3L202.7,440.6L202.9,439.8L203.1,439.1L203.3,438.3L203.4,437.6L203.6,436.9L203.8,436.1L203.9,435.4L204.1,434.6L204.3,433.9L204.5,433.1L204.7,432.4L204.8,431.7L205.0,430.9L205.2,430.2L205.4,429.4L205.6,428.7L205.8,428.0L205.9,427.2L206.1,426.5L206.3,425.8L206.5,425.0L206.7,424.3L206.9,423.6L207.1,422.8L207.3,422.1L207.5,421.4L207.7,420.6L208.0,419.9L208.2,419.2L208.4,418.5L208.6,417.8L208.8,417.0L209.1,416.3L209.3,415.6L209.5,414.9L209.8,414.2L210.0,413.5L210.2,412.8L210.5,412.1L210.7,411.4L211.0,410.6L211.3,409.9L211.5,409.3L211.8,408.6L212.1,407.9L212.3,407.2L212.6,406.5L212.9,405.8L213.2,405.1L213.5,404.4L213.8,403.8L214.1,403.1L214.4,402.4L214.7,401.7L215.0,401.1L215.3,400.4L215.7,399.7L216.0,399.1L216.3,398.4L216.7,397.8L217.0,397.1L217.4,396.5L217.7,395.8L218.1,395.2L218.5,394.6L218.9,394.0L219.2,393.4L219.6,392.9L220.1,392.4L220.5,392.0L220.9,391.6L221.4,391.4L222.4,391.3L222.9,391.3L223.4,391.5L223.9,391.7L224.4,392.1L224.8,392.5L225.3,393.0L225.7,393.5L226.1,394.1L226.5,394.8L226.9,395.5L227.3,396.2L227.6,397.0L227.9,397.8L228.3,398.7L228.6,399.5L228.8,400.4L229.1,401.3L229.4,402.2L229.6,403.1L229.8,404.0L230.1,404.8L230.3,405.7L230.5,406.5L230.7,407.3L230.9,408.1L231.0,408.9L231.2,409.7L231.4,410.5L231.5,411.3L231.7,412.1L231.8,412.8L232.0,413.6L232.1,414.3L232.2,415.1L232.3,415.8L232.5,416.5L232.6,417.2L232.7,418.0L232.8,418.7L232.9,419.4L233.1,420.1L233.2,420.8L233.3,421.5L233.4,422.3L233.5,423.0L233.7,423.7L233.8,424.4L233.9,425.1L234.0,425.8L234.1,426.5L234.3,427.3L234.4,428.0L234.5,428.7L234.7,429.4L234.8,430.1L234.9,430.8L235.1,431.6L235.2,432.3L235.3,433.0L235.5,433.7L235.6,434.4L235.7,435.2L235.9,435.9L236.0,436.6L236.1,437.3L236.3,438.0L236.4,438.8L236.6,439.5L236.7,440.2L236.8,440.9L237.0,441.7L237.1,442.4L237.3,443.1L237.4,443.8L237.5,444.6L237.7,445.3L237.8,446.0L238.0,446.8L238.1,447.5L238.3,448.2L238.4,448.9L238.5,449.7L238.7,450.4L238.8,451.1L239.0,451.9L239.1,452.6L239.2,453.3L239.4,454.1L239.5,454.8L239.7,455.5L239.8,456.3L239.9,457.0L240.1,457.7L240.2,458.5L240.3,459.2L240.5,460.0L240.6,460.7L240.8,461.4L240.9,462.2L241.0,462.9L241.2,463.6L241.3,464.4L241.4,465.1L241.5,465.9L241.7,466.6L241.8,467.4L241.9,468.1L242.0,468.9L242.2,469.6L242.3,470.3L242.4,471.1L242.5,471.8L242.7,472.6L242.8,473.3L242.9,474.1L243.0,474.8L243.1,475.6L243.2,476.3L243.3,477.1L243.4,477.8L243.6,478.6L243.7,479.3L243.8,480.1L243.9,480.8L244.0,481.6L244.1,482.4L244.2,483.1L244.3,483.9L244.4,484.6L244.5,485.4L244.6,486.1L244.7,486.9L244.8,487.6L244.9,488.4L245.0,489.2L245.1,489.9L245.2,490.7L245.3,491.4L245.4,492.2L245.5,492.9L245.7,493.7L245.8,494.5L245.9,495.2L246.0,496.0L246.1,496.7L246.2,497.5L246.3,498.2L246.4,499.0L246.5,499.7L246.6,500.5L246.7,501.3L246.8,502.0L246.9,502.8L247.0,503.5L247.2,504.3L247.3,505.0L247.4,505.8L247.5,506.5L247.6,507.3L247.7,508.0L247.9,508.8L248.0,509.5L248.1,510.3L248.2,511.0L248.3,511.8L248.5,512.5L248.6,513.3L248.7,514.0L248.9,514.8L249.0,515.5L249.1,516.3L249.3,517.0L249.4,517.7L249.6,518.5L249.7,519.2L249.9,520.0L250.0,520.7L250.2,521.4L250.3,522.2L250.5,522.9L250.6,523.7L250.8,524.4L250.9,525.1L251.1,525.9L251.3,526.6L251.4,527.3L251.6,528.0L251.8,528.8L252.0,529.5L252.2,530.2L252.4,530.9L252.5,531.7L252.7,532.4L252.9,533.1L253.1,533.8L253.3,534.6L253.5,535.3L253.7,536.0L254.0,536.7L254.2,537.4L254.4,538.1L254.6,538.8L254.8,539.5L255.1,540.2L255.3,541.0L255.5,541.7L255.8,542.4L256.0,543.1L256.3,543.8L256.5,544.5L256.8,545.1L257.1,545.8L257.3,546.5L257.6,547.2L257.9,547.9L258.2,548.6L258.4,549.3L258.7,550.0L259.0,550.6L259.3,551.3L259.6,552.0L259.9,552.7L260.2,553.3L260.6,554.0L260.9,554.7L261.2,555.4L261.5,556.0L261.9,556.7L262.2,557.3L262.6,558.0L262.9,558.7L263.3,559.3L263.7,560.0L264.0,560.6L264.4,561.3L264.8,561.9L265.2,562.5L265.6,563.2L266.0,563.8L266.4,564.5L266.8,565.1L267.2,565.7L267.6,566.3L268.0,567.0L268.5,567.6L268.9,568.2L269.4,568.8L269.8,569.4L270.3,570.0L270.8,570.6L271.2,571.1L271.7,571.7L272.2,572.2L272.8,572.7L273.3,573.2L273.8,573.7L274.4,574.2L274.9,574.6L275.5,575.1L276.1,575.5L276.7,575.8L277.3,576.2L278.0,576.5L278.6,576.8L279.3,577.1L279.9,577.4L280.6,577.6L281.3,577.8L282.1,577.9L282.8,578.0L283.6,578.1L284.3,578.2L285.1,578.2L285.9,578.2L286.8,578.1L287.6,578.0L288.5,577.8L289.4,577.7L290.3,577.4L291.2,577.1L292.2,576.8L292.2,576.8" fill="none" stroke="#ff30e0" stroke-width="1.05"/>
<path d="M290,577 L355,577" fill="none" stroke="#ff30e0" stroke-width="1.3"/>
<path d="M83,577 L93,577 L97.6,529.3 L101.6,573.8" fill="none" stroke="#ff30e0" stroke-width="1.3" stroke-linejoin="miter"/>
<rect x="277.3" y="326.5" width="114.7" height="78.8" fill="#fff" stroke="#000" stroke-width="2.6"/>
<line x1="339" y1="338.9" x2="382" y2="338.9" stroke="#000" stroke-width="3"/>
<text x="278.7" y="345.0" font-size="10" font-weight="bold" fill="#000" textLength="52.1" lengthAdjust="spacingAndGlyphs">UNSTAINED</text>
<line x1="339" y1="353.4" x2="382" y2="353.4" stroke="#0a3cff" stroke-width="3"/>
<text x="300.0" y="357.7" font-size="10" font-weight="bold" fill="#000" textLength="19.7" lengthAdjust="spacingAndGlyphs">CON</text>
<line x1="339" y1="368.0" x2="382" y2="368.0" stroke="#08d838" stroke-width="3"/>
<text x="302.6" y="370.9" font-size="10" font-weight="bold" fill="#000" textLength="14.5" lengthAdjust="spacingAndGlyphs">ISO</text>
<line x1="339" y1="382.5" x2="382" y2="382.5" stroke="#b84cdc" stroke-width="3"/>
<text x="300.0" y="383.9" font-size="10" font-weight="bold" fill="#000" textLength="20.0" lengthAdjust="spacingAndGlyphs">M10</text>
<line x1="339" y1="396.5" x2="382" y2="396.5" stroke="#ff33ee" stroke-width="3"/>
<text x="285.5" y="396.7" font-size="10" font-weight="bold" fill="#000" textLength="40.7" lengthAdjust="spacingAndGlyphs">ISO+M10</text>
<line x1="481.30" y1="54.00" x2="481.30" y2="234.10" stroke="#000" stroke-width="1.8"/><line x1="476.80" y1="233.20" x2="481.30" y2="233.20" stroke="#000" stroke-width="1.6"/><text x="473.30" y="238.00" font-size="13.8" font-weight="bold" text-anchor="end" fill="#111">0</text><line x1="476.80" y1="173.50" x2="481.30" y2="173.50" stroke="#000" stroke-width="1.6"/><text x="473.30" y="178.30" font-size="13.8" font-weight="bold" text-anchor="end" fill="#111">100</text><line x1="476.80" y1="113.80" x2="481.30" y2="113.80" stroke="#000" stroke-width="1.6"/><text x="473.30" y="118.60" font-size="13.8" font-weight="bold" text-anchor="end" fill="#111">200</text><line x1="476.80" y1="54.10" x2="481.30" y2="54.10" stroke="#000" stroke-width="1.6"/><text x="473.30" y="58.90" font-size="13.8" font-weight="bold" text-anchor="end" fill="#111">300</text><rect x="494.20" y="157.50" width="50.30" height="75.70" fill="url(#dotsB)" stroke="#808080" stroke-width="1.5"/><line x1="494.20" y1="157.50" x2="544.50" y2="157.50" stroke="#333" stroke-width="1"/><line x1="506.85" y1="156.90" x2="531.85" y2="156.90" stroke="#222" stroke-width="1.8"/><line x1="519.00" y1="233.20" x2="519.00" y2="238.70" stroke="#000" stroke-width="1.6"/><text transform="translate(520.00,249.30) rotate(-45)" x="0" y="0" font-size="14" font-weight="bold" text-anchor="end" fill="#111">CON</text><rect x="568.40" y="144.80" width="49.90" height="88.40" fill="url(#diag)" stroke="#808080" stroke-width="1.5"/><line x1="568.40" y1="144.80" x2="618.30" y2="144.80" stroke="#333" stroke-width="1"/><line x1="580.85" y1="144.20" x2="605.85" y2="144.20" stroke="#222" stroke-width="1.8"/><line x1="593.00" y1="233.20" x2="593.00" y2="238.70" stroke="#000" stroke-width="1.6"/><text transform="translate(594.00,249.30) rotate(-45)" x="0" y="0" font-size="14" font-weight="bold" text-anchor="end" fill="#111">M10</text><rect x="642.30" y="70.10" width="49.80" height="163.10" fill="url(#hstripB)" stroke="#808080" stroke-width="1.5"/><line x1="642.30" y1="70.10" x2="692.10" y2="70.10" stroke="#333" stroke-width="1"/><line x1="654.50" y1="67.90" x2="679.90" y2="67.90" stroke="#777" stroke-width="1.4"/><line x1="667.20" y1="67.90" x2="667.20" y2="72.60" stroke="#555" stroke-width="1.2"/><line x1="667.00" y1="233.20" x2="667.00" y2="238.70" stroke="#000" stroke-width="1.6"/><text transform="translate(668.00,249.30) rotate(-45)" x="0" y="0" font-size="14" font-weight="bold" text-anchor="end" fill="#111">ISO</text><rect x="716.50" y="112.20" width="49.30" height="121.00" fill="url(#checkB)" stroke="#808080" stroke-width="1.5"/><line x1="716.50" y1="112.20" x2="765.80" y2="112.20" stroke="#333" stroke-width="1"/><line x1="728.65" y1="111.60" x2="753.65" y2="111.60" stroke="#222" stroke-width="1.8"/><line x1="741.00" y1="233.20" x2="741.00" y2="238.70" stroke="#000" stroke-width="1.6"/><text transform="translate(742.00,249.30) rotate(-45)" x="0" y="0" font-size="14" font-weight="bold" text-anchor="end" fill="#111">ISO+M10</text><line x1="480.40" y1="233.20" x2="778.70" y2="233.20" stroke="#000" stroke-width="1.8"/><text transform="translate(427.50,143.80) rotate(-90)" x="0" y="0" font-size="14.5" text-anchor="middle" fill="#111" stroke="#111" stroke-width="0.45" textLength="183.8" lengthAdjust="spacingAndGlyphs">Mean flourescent Intensity</text><text transform="translate(447.80,143.80) rotate(-90)" x="0" y="0" font-size="14.5" text-anchor="middle" fill="#111" stroke="#111" stroke-width="0.45">(MFI)</text><path d="M666.20,56.10L666.20,52.40M666.20,56.10L662.00,54.60M666.20,56.10L670.40,54.60M666.20,56.10L663.50,58.50M666.20,56.10L668.90,58.50" stroke="#111" stroke-width="1.7" stroke-linecap="round" fill="none"/><text x="740.40" y="107.80" font-size="16.5" text-anchor="middle" fill="#111" stroke="#111" stroke-width="0.6">#</text>
<line x1="495.20" y1="352.30" x2="495.20" y2="540.50" stroke="#000" stroke-width="1.8"/><line x1="490.70" y1="539.60" x2="495.20" y2="539.60" stroke="#000" stroke-width="1.6"/><text x="487.30" y="544.40" font-size="13.2" font-weight="bold" text-anchor="end" fill="#111">0</text><line x1="490.70" y1="502.14" x2="495.20" y2="502.14" stroke="#000" stroke-width="1.6"/><text x="487.30" y="506.94" font-size="13.2" font-weight="bold" text-anchor="end" fill="#111">200</text><line x1="490.70" y1="464.68" x2="495.20" y2="464.68" stroke="#000" stroke-width="1.6"/><text x="487.30" y="469.48" font-size="13.2" font-weight="bold" text-anchor="end" fill="#111">400</text><line x1="490.70" y1="427.22" x2="495.20" y2="427.22" stroke="#000" stroke-width="1.6"/><text x="487.30" y="432.02" font-size="13.2" font-weight="bold" text-anchor="end" fill="#111">600</text><line x1="490.70" y1="389.76" x2="495.20" y2="389.76" stroke="#000" stroke-width="1.6"/><text x="487.30" y="394.56" font-size="13.2" font-weight="bold" text-anchor="end" fill="#111">800</text><line x1="490.70" y1="352.30" x2="495.20" y2="352.30" stroke="#000" stroke-width="1.6"/><text x="487.30" y="357.10" font-size="13.2" font-weight="bold" text-anchor="end" fill="#111">1000</text><rect x="507.00" y="511.40" width="47.40" height="28.20" fill="url(#dotsD)" stroke="#808080" stroke-width="1.5"/><line x1="507.00" y1="511.40" x2="554.40" y2="511.40" stroke="#333" stroke-width="1"/><line x1="518.20" y1="510.80" x2="543.20" y2="510.80" stroke="#222" stroke-width="1.8"/><line x1="531.00" y1="539.60" x2="531.00" y2="545.10" stroke="#000" stroke-width="1.6"/><text transform="translate(532.00,557.80) rotate(-45)" x="0" y="0" font-size="14" font-weight="bold" text-anchor="end" fill="#111">CON</text><rect x="577.60" y="498.90" width="46.30" height="40.70" fill="url(#diag)" stroke="#808080" stroke-width="1.5"/><line x1="577.60" y1="498.90" x2="623.90" y2="498.90" stroke="#333" stroke-width="1"/><line x1="588.25" y1="498.30" x2="613.25" y2="498.30" stroke="#222" stroke-width="1.8"/><line x1="601.00" y1="539.60" x2="601.00" y2="545.10" stroke="#000" stroke-width="1.6"/><text transform="translate(602.00,557.80) rotate(-45)" x="0" y="0" font-size="14" font-weight="bold" text-anchor="end" fill="#111">M10</text><rect x="647.00" y="385.50" width="47.00" height="154.10" fill="url(#hstripD)" stroke="#808080" stroke-width="1.5"/><line x1="647.00" y1="385.50" x2="694.00" y2="385.50" stroke="#333" stroke-width="1"/><line x1="658.00" y1="384.90" x2="683.00" y2="384.90" stroke="#222" stroke-width="1.8"/><line x1="647.00" y1="538.10" x2="694.00" y2="538.10" stroke="#000" stroke-width="1.6"/><line x1="671.00" y1="539.60" x2="671.00" y2="545.10" stroke="#000" stroke-width="1.6"/><text transform="translate(672.00,557.80) rotate(-45)" x="0" y="0" font-size="14" font-weight="bold" text-anchor="end" fill="#111">ISO</text><rect x="716.80" y="485.10" width="47.20" height="54.50" fill="url(#checkD)" stroke="#808080" stroke-width="1.5"/><line x1="716.80" y1="485.10" x2="764.00" y2="485.10" stroke="#333" stroke-width="1"/><line x1="727.90" y1="484.50" x2="752.90" y2="484.50" stroke="#222" stroke-width="1.8"/><line x1="741.00" y1="539.60" x2="741.00" y2="545.10" stroke="#000" stroke-width="1.6"/><text transform="translate(742.00,557.80) rotate(-45)" x="0" y="0" font-size="14" font-weight="bold" text-anchor="end" fill="#111">ISO+M10</text><line x1="494.30" y1="539.60" x2="776.00" y2="539.60" stroke="#000" stroke-width="1.8"/><text transform="translate(426.80,446.60) rotate(-90)" x="0" y="0" font-size="14.5" text-anchor="middle" fill="#111" stroke="#111" stroke-width="0.45" textLength="190.4" lengthAdjust="spacingAndGlyphs">Mean flourescent Intensity</text><text transform="translate(447.30,446.60) rotate(-90)" x="0" y="0" font-size="14.5" text-anchor="middle" fill="#111" stroke="#111" stroke-width="0.45">(MFI)</text><path d="M669.60,367.70L669.60,364.00M669.60,367.70L665.40,366.20M669.60,367.70L673.80,366.20M669.60,367.70L666.90,370.10M669.60,367.70L672.30,370.10" stroke="#111" stroke-width="1.7" stroke-linecap="round" fill="none"/><text x="740.70" y="473.00" font-size="16.5" text-anchor="middle" fill="#111" stroke="#111" stroke-width="0.6">#</text>
</svg></body></html>
